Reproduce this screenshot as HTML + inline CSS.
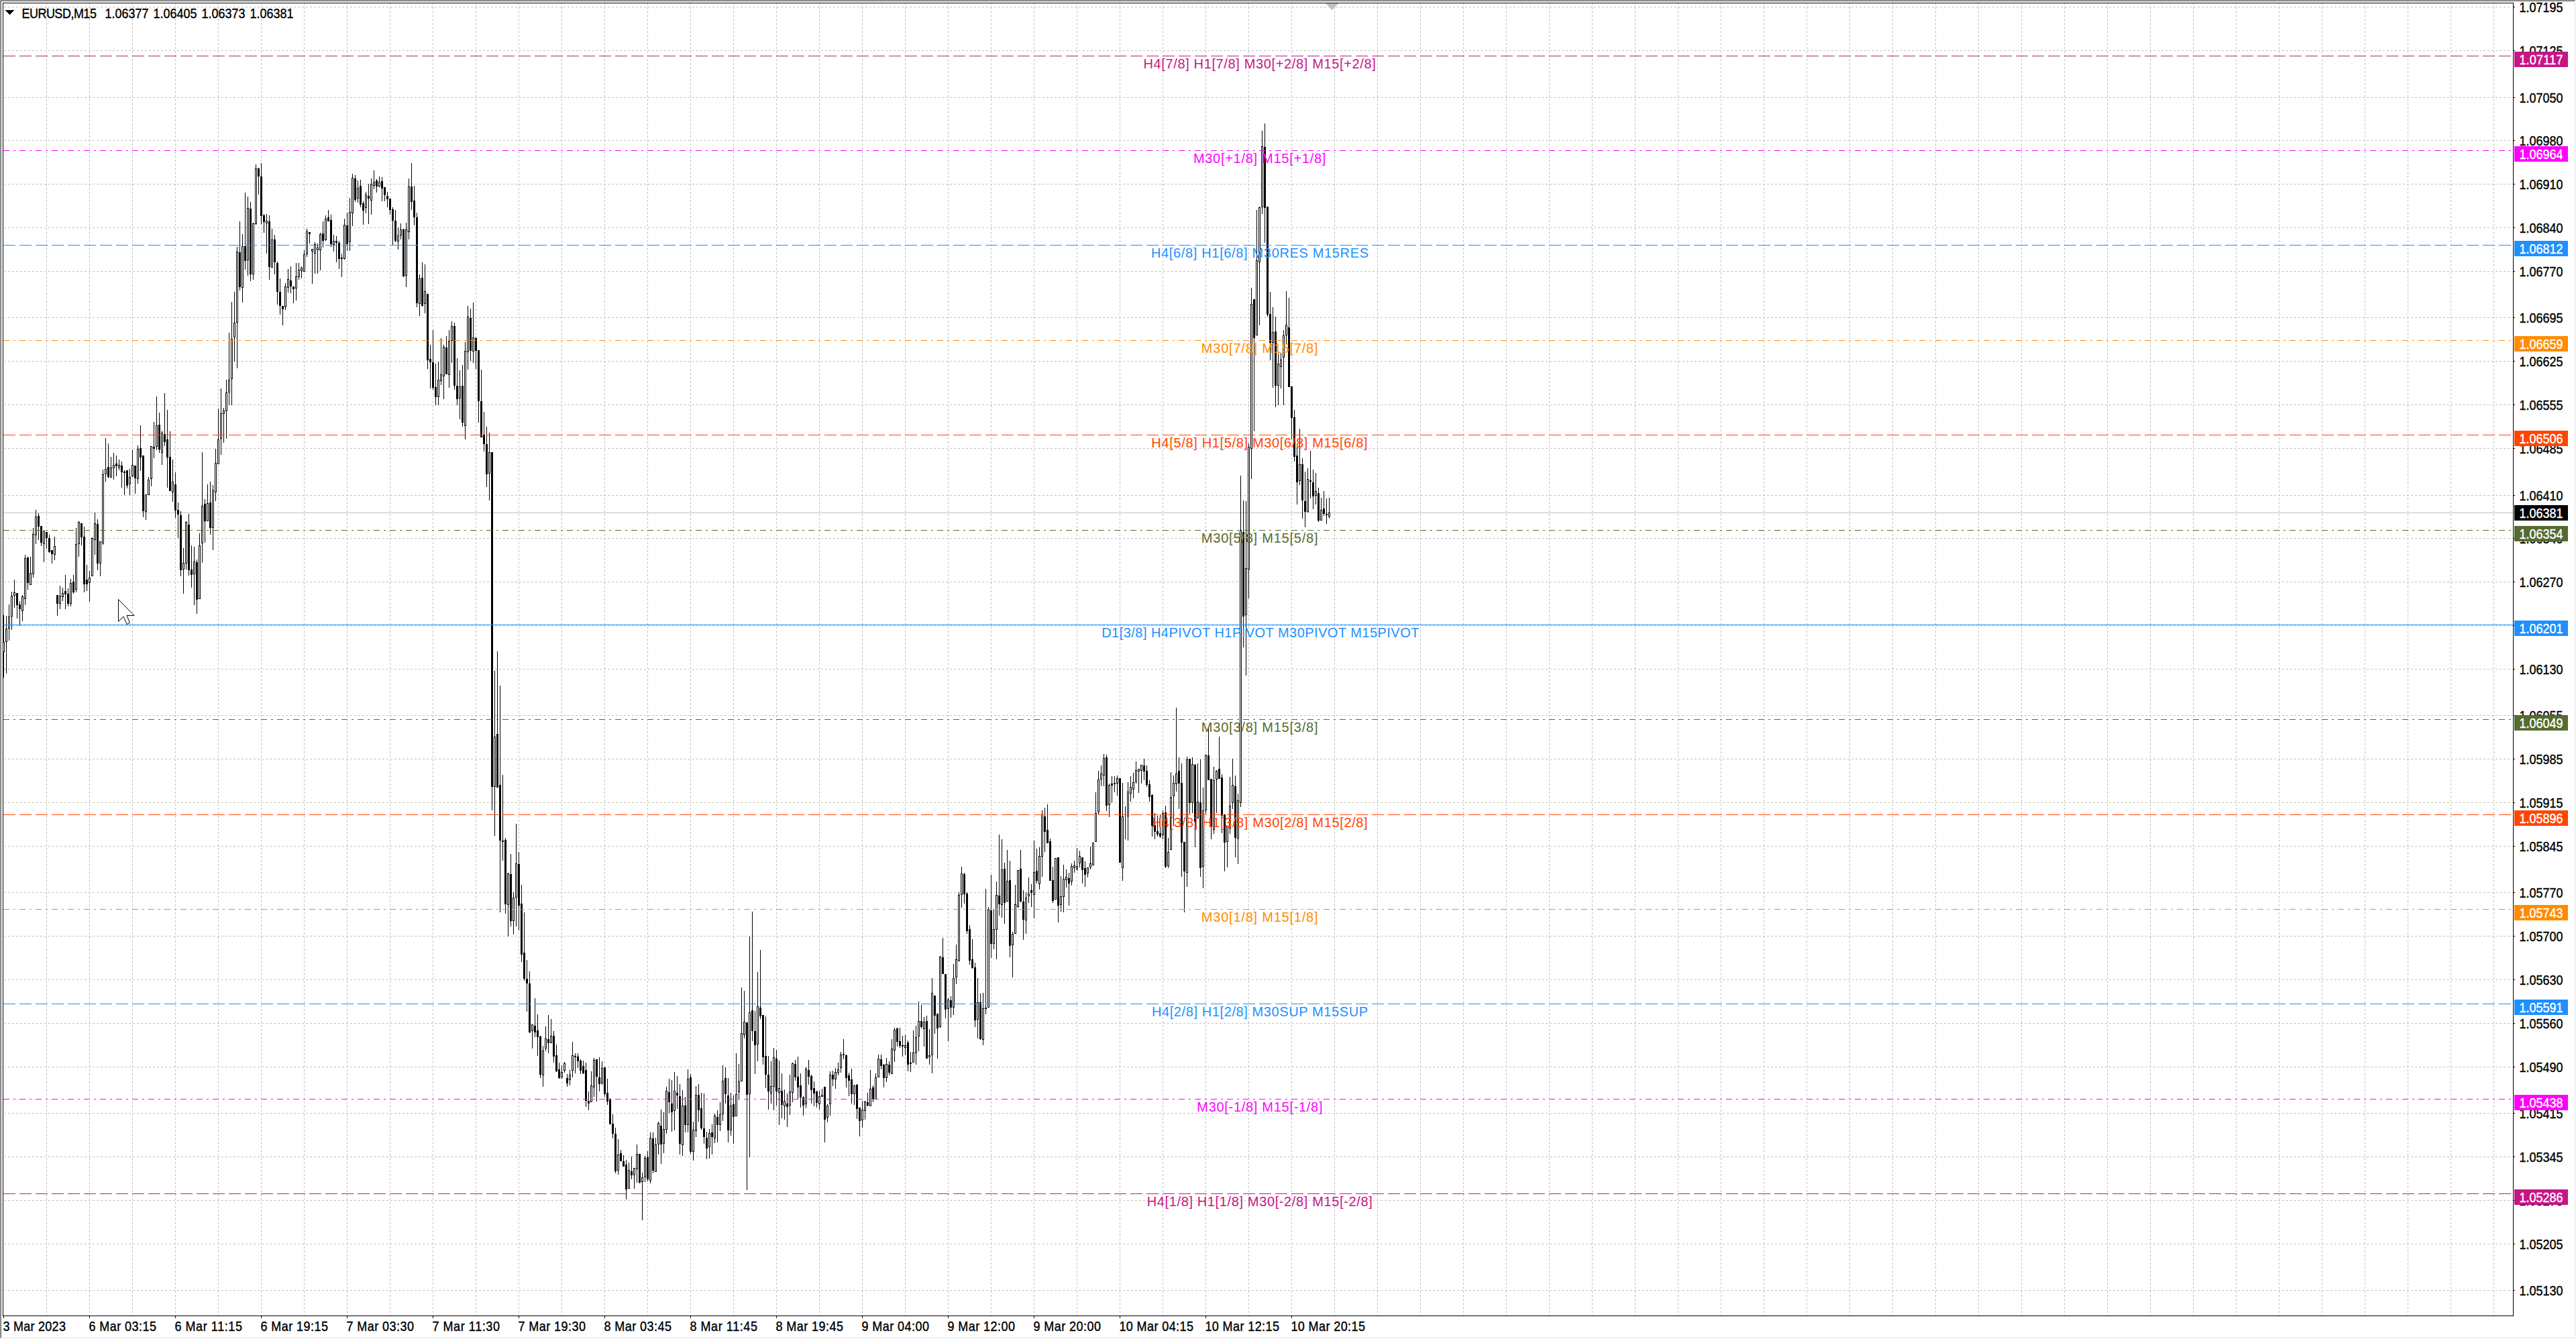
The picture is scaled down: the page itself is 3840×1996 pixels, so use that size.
<!DOCTYPE html>
<html><head><meta charset="utf-8"><title>EURUSD,M15</title>
<style>html,body{margin:0;padding:0;background:#fff;width:3840px;height:1996px;overflow:hidden}svg{display:block}text{font-family:'Liberation Sans', Arial, sans-serif;}</style></head><body>
<svg width="3840" height="1996" viewBox="0 0 3840 1996" shape-rendering="crispEdges">
<rect x="0" y="0" width="3840" height="1996" fill="#fff"/>
<rect x="0" y="0" width="3839" height="1" fill="#a0a0a0"/>
<rect x="0" y="0" width="1" height="1995" fill="#a0a0a0"/>
<rect x="1" y="1" width="3837" height="1" fill="#696969"/>
<rect x="1" y="1" width="1" height="1993" fill="#696969"/>
<rect x="3838" y="1" width="1" height="1994" fill="#e3e3e3"/>
<rect x="1" y="1994" width="3838" height="1" fill="#e3e3e3"/>
<path d="M69.5 4V1961M133.5 4V1961M197.5 4V1961M261.5 4V1961M325.5 4V1961M389.5 4V1961M453.5 4V1961M517.5 4V1961M581.5 4V1961M645.5 4V1961M709.5 4V1961M773.5 4V1961M837.5 4V1961M901.5 4V1961M965.5 4V1961M1029.5 4V1961M1093.5 4V1961M1157.5 4V1961M1221.5 4V1961M1285.5 4V1961M1349.5 4V1961M1413.5 4V1961M1477.5 4V1961M1541.5 4V1961M1605.5 4V1961M1669.5 4V1961M1733.5 4V1961M1797.5 4V1961M1861.5 4V1961M1925.5 4V1961M1989.5 4V1961M2053.5 4V1961M2117.5 4V1961M2181.5 4V1961M2245.5 4V1961M2309.5 4V1961M2373.5 4V1961M2437.5 4V1961M2501.5 4V1961M2565.5 4V1961M2629.5 4V1961M2693.5 4V1961M2757.5 4V1961M2821.5 4V1961M2885.5 4V1961M2949.5 4V1961M3013.5 4V1961M3077.5 4V1961M3141.5 4V1961M3205.5 4V1961M3269.5 4V1961M3333.5 4V1961M3397.5 4V1961M3461.5 4V1961M3525.5 4V1961M3589.5 4V1961M3653.5 4V1961M3717.5 4V1961" stroke="#c0c0c0" stroke-width="1" stroke-dasharray="3 3" fill="none"/>
<path d="M6 10.5H3745M6 75.5H3745M6 145.5H3745M6 209.5H3745M6 274.5H3745M6 339.5H3745M6 404.5H3745M6 473.5H3745M6 538.5H3745M6 603.5H3745M6 668.5H3745M6 738.5H3745M6 802.5H3745M6 867.5H3745M6 932.5H3745M6 997.5H3745M6 1066.5H3745M6 1131.5H3745M6 1196.5H3745M6 1261.5H3745M6 1330.5H3745M6 1395.5H3745M6 1460.5H3745M6 1525.5H3745M6 1590.5H3745M6 1659.5H3745M6 1724.5H3745M6 1789.5H3745M6 1854.5H3745M6 1923.5H3745" stroke="#c0c0c0" stroke-width="1" stroke-dasharray="3 3" fill="none"/>
<path d="M5 764.5H3746" stroke="#c0c0c0" stroke-width="1" fill="none"/>
<path d="M5 917h1v40h-1zM5 972h1v38h-1zM4 957h3v1h-3zM4 971h3v1h-3zM4 958h1v13h-1zM6 958h1v13h-1zM9 918h1v19h-1zM9 957h1v47h-1zM8 937h3v1h-3zM8 956h3v1h-3zM8 938h1v18h-1zM10 938h1v18h-1zM13 901h1v18h-1zM13 937h1v18h-1zM12 919h3v1h-3zM12 936h3v1h-3zM12 920h1v16h-1zM14 920h1v16h-1zM17 882h1v6h-1zM17 919h1v20h-1zM16 888h3v1h-3zM16 918h3v1h-3zM16 889h1v29h-1zM18 889h1v29h-1zM21 864h1v19h-1zM21 888h1v18h-1zM20 883h3v1h-3zM20 887h3v1h-3zM20 884h1v3h-1zM22 884h1v3h-1zM25 902h1v20h-1zM24 884h3v18h-3zM29 896h1v5h-1zM29 908h1v25h-1zM28 901h3v7h-3zM33 887h1v2h-1zM33 911h1v15h-1zM32 889h3v1h-3zM32 910h3v1h-3zM32 890h1v20h-1zM34 890h1v20h-1zM37 827h1v5h-1zM37 893h1v9h-1zM36 832h3v1h-3zM36 892h3v1h-3zM36 833h1v59h-1zM38 833h1v59h-1zM41 830h1v1h-1zM41 869h1v10h-1zM40 831h3v38h-3zM45 830h1v24h-1zM44 854h3v1h-3zM44 871h3v1h-3zM44 855h1v16h-1zM46 855h1v16h-1zM49 787h1v9h-1zM49 856h1v5h-1zM48 796h3v1h-3zM48 855h3v1h-3zM48 797h1v58h-1zM50 797h1v58h-1zM53 760h1v10h-1zM53 798h1v13h-1zM52 770h3v1h-3zM52 797h3v1h-3zM52 771h1v26h-1zM54 771h1v26h-1zM57 765h1v4h-1zM57 785h1v20h-1zM56 769h3v16h-3zM61 809h1v5h-1zM60 784h3v25h-3zM65 811h1v27h-1zM64 791h3v1h-3zM64 810h3v1h-3zM64 792h1v18h-1zM66 792h1v18h-1zM69 802h1v16h-1zM68 793h3v9h-3zM73 797h1v5h-1zM73 823h1v1h-1zM72 802h3v21h-3zM77 826h1v14h-1zM76 820h3v6h-3zM81 800h1v14h-1zM81 827h1v8h-1zM80 814h3v1h-3zM80 826h3v1h-3zM80 815h1v11h-1zM82 815h1v11h-1zM85 900h1v18h-1zM84 887h3v13h-3zM89 873h1v15h-1zM89 900h1v8h-1zM88 888h3v1h-3zM88 899h3v1h-3zM88 889h1v10h-1zM90 889h1v10h-1zM93 876h1v8h-1zM93 890h1v6h-1zM92 884h3v1h-3zM92 889h3v1h-3zM92 885h1v4h-1zM94 885h1v4h-1zM97 857h1v24h-1zM97 886h1v22h-1zM96 881h3v5h-3zM101 877h1v8h-1zM101 900h1v4h-1zM100 885h3v15h-3zM105 863h1v6h-1zM105 900h1v4h-1zM104 869h3v1h-3zM104 899h3v1h-3zM104 870h1v29h-1zM106 870h1v29h-1zM109 857h1v10h-1zM109 883h1v2h-1zM108 867h3v16h-3zM113 787h1v24h-1zM113 879h1v4h-1zM112 811h3v1h-3zM112 878h3v1h-3zM112 812h1v66h-1zM114 812h1v66h-1zM117 777h1v1h-1zM117 811h1v19h-1zM116 778h3v1h-3zM116 810h3v1h-3zM116 779h1v31h-1zM118 779h1v31h-1zM121 801h1v12h-1zM120 780h3v21h-3zM125 785h1v15h-1zM125 871h1v12h-1zM124 800h3v71h-3zM129 842h1v22h-1zM129 871h1v10h-1zM128 864h3v7h-3zM133 851h1v10h-1zM133 869h1v28h-1zM132 861h3v1h-3zM132 868h3v1h-3zM132 862h1v6h-1zM134 862h1v6h-1zM137 801h1v1h-1zM136 802h3v1h-3zM136 858h3v1h-3zM136 803h1v55h-1zM138 803h1v55h-1zM141 764h1v16h-1zM141 805h1v22h-1zM140 780h3v1h-3zM140 804h3v1h-3zM140 781h1v23h-1zM142 781h1v23h-1zM145 774h1v7h-1zM145 840h1v10h-1zM144 781h3v59h-3zM149 840h1v19h-1zM148 807h3v1h-3zM148 839h3v1h-3zM148 808h1v31h-1zM150 808h1v31h-1zM153 700h1v7h-1zM153 810h1v2h-1zM152 707h3v1h-3zM152 809h3v1h-3zM152 708h1v101h-1zM154 708h1v101h-1zM157 653h1v46h-1zM157 707h1v11h-1zM156 699h3v1h-3zM156 706h3v1h-3zM156 700h1v6h-1zM158 700h1v6h-1zM161 661h1v35h-1zM161 711h1v2h-1zM160 696h3v15h-3zM165 681h1v16h-1zM164 697h3v1h-3zM164 711h3v1h-3zM164 698h1v13h-1zM166 698h1v13h-1zM169 675h1v18h-1zM169 698h1v17h-1zM168 693h3v1h-3zM168 697h3v1h-3zM168 694h1v3h-1zM170 694h1v3h-1zM173 679h1v12h-1zM173 695h1v15h-1zM172 691h3v4h-3zM177 685h1v8h-1zM177 697h1v4h-1zM176 693h3v1h-3zM176 696h3v1h-3zM176 694h1v2h-1zM178 694h1v2h-1zM181 688h1v6h-1zM181 704h1v23h-1zM180 694h3v10h-3zM185 701h1v2h-1zM185 705h1v33h-1zM184 703h3v2h-3zM189 724h1v4h-1zM188 701h3v23h-3zM193 699h1v12h-1zM193 722h1v16h-1zM192 711h3v1h-3zM192 721h3v1h-3zM192 712h1v9h-1zM194 712h1v9h-1zM197 670h1v23h-1zM197 710h1v1h-1zM196 693h3v1h-3zM196 709h3v1h-3zM196 694h1v15h-1zM198 694h1v15h-1zM201 713h1v23h-1zM200 694h3v19h-3zM205 664h1v5h-1zM205 714h1v7h-1zM204 669h3v1h-3zM204 713h3v1h-3zM204 670h1v43h-1zM206 670h1v43h-1zM209 634h1v34h-1zM209 682h1v20h-1zM208 668h3v14h-3zM213 762h1v9h-1zM212 679h3v83h-3zM217 763h1v12h-1zM216 737h3v1h-3zM216 762h3v1h-3zM216 738h1v24h-1zM218 738h1v24h-1zM221 711h1v4h-1zM220 715h3v1h-3zM220 737h3v1h-3zM220 716h1v21h-1zM222 716h1v21h-1zM225 714h1v11h-1zM224 665h3v1h-3zM224 713h3v1h-3zM224 666h1v47h-1zM226 666h1v47h-1zM229 629h1v37h-1zM229 669h1v14h-1zM228 666h3v3h-3zM233 591h1v43h-1zM233 666h1v5h-1zM232 634h3v1h-3zM232 665h3v1h-3zM232 635h1v30h-1zM234 635h1v30h-1zM237 615h1v18h-1zM237 670h1v5h-1zM236 633h3v37h-3zM241 642h1v3h-1zM241 675h1v18h-1zM240 645h3v1h-3zM240 674h3v1h-3zM240 646h1v28h-1zM242 646h1v28h-1zM245 586h1v61h-1zM245 659h1v6h-1zM244 647h3v12h-3zM249 611h1v44h-1zM249 682h1v45h-1zM248 655h3v27h-3zM253 643h1v38h-1zM252 681h3v51h-3zM257 685h1v33h-1zM257 734h1v14h-1zM256 718h3v1h-3zM256 733h3v1h-3zM256 719h1v14h-1zM258 719h1v14h-1zM261 704h1v18h-1zM261 761h1v11h-1zM260 722h3v39h-3zM265 749h1v11h-1zM265 767h1v35h-1zM264 760h3v7h-3zM269 762h1v6h-1zM269 850h1v9h-1zM268 768h3v82h-3zM273 817h1v22h-1zM273 849h1v36h-1zM272 839h3v1h-3zM272 848h3v1h-3zM272 840h1v8h-1zM274 840h1v8h-1zM277 777h1v1h-1zM277 840h1v9h-1zM276 778h3v1h-3zM276 839h3v1h-3zM276 779h1v60h-1zM278 779h1v60h-1zM281 766h1v16h-1zM281 850h1v8h-1zM280 782h3v68h-3zM285 813h1v36h-1zM285 857h1v19h-1zM284 849h3v8h-3zM289 815h1v22h-1zM289 856h1v46h-1zM288 837h3v1h-3zM288 855h3v1h-3zM288 838h1v17h-1zM290 838h1v17h-1zM293 834h1v4h-1zM293 894h1v21h-1zM292 838h3v56h-3zM297 795h1v18h-1zM296 813h3v1h-3zM296 892h3v1h-3zM296 814h1v78h-1zM298 814h1v78h-1zM301 674h1v80h-1zM301 810h1v29h-1zM300 754h3v1h-3zM300 809h3v1h-3zM300 755h1v54h-1zM302 755h1v54h-1zM305 744h1v7h-1zM305 777h1v32h-1zM304 751h3v26h-3zM309 722h1v28h-1zM308 750h3v1h-3zM308 776h3v1h-3zM308 751h1v25h-1zM310 751h1v25h-1zM313 718h1v31h-1zM313 787h1v10h-1zM312 749h3v38h-3zM317 723h1v8h-1zM317 787h1v33h-1zM316 731h3v1h-3zM316 786h3v1h-3zM316 732h1v54h-1zM318 732h1v54h-1zM321 669h1v21h-1zM321 734h1v13h-1zM320 690h3v1h-3zM320 733h3v1h-3zM320 691h1v42h-1zM322 691h1v42h-1zM325 609h1v46h-1zM324 655h3v1h-3zM324 691h3v1h-3zM324 656h1v35h-1zM326 656h1v35h-1zM329 579h1v37h-1zM329 654h1v24h-1zM328 616h3v1h-3zM328 653h3v1h-3zM328 617h1v36h-1zM330 617h1v36h-1zM333 608h1v4h-1zM333 617h1v43h-1zM332 612h3v1h-3zM332 616h3v1h-3zM332 613h1v3h-1zM334 613h1v3h-1zM337 566h1v19h-1zM337 613h1v41h-1zM336 585h3v1h-3zM336 612h3v1h-3zM336 586h1v26h-1zM338 586h1v26h-1zM341 496h1v70h-1zM341 585h1v19h-1zM340 566h3v1h-3zM340 584h3v1h-3zM340 567h1v17h-1zM342 567h1v17h-1zM345 450h1v55h-1zM345 565h1v39h-1zM344 505h3v1h-3zM344 564h3v1h-3zM344 506h1v58h-1zM346 506h1v58h-1zM349 435h1v46h-1zM349 503h1v36h-1zM348 481h3v1h-3zM348 502h3v1h-3zM348 482h1v20h-1zM350 482h1v20h-1zM353 368h1v7h-1zM353 481h1v68h-1zM352 375h3v1h-3zM352 480h3v1h-3zM352 376h1v104h-1zM354 376h1v104h-1zM357 330h1v46h-1zM357 428h1v5h-1zM356 376h3v52h-3zM361 349h1v18h-1zM361 429h1v22h-1zM360 367h3v1h-3zM360 428h3v1h-3zM360 368h1v60h-1zM362 368h1v60h-1zM365 287h1v80h-1zM365 389h1v13h-1zM364 367h3v22h-3zM369 293h1v17h-1zM369 388h1v23h-1zM368 310h3v1h-3zM368 387h3v1h-3zM368 311h1v76h-1zM370 311h1v76h-1zM373 301h1v10h-1zM373 409h1v10h-1zM372 311h3v98h-3zM377 332h1v1h-1zM377 409h1v8h-1zM376 333h3v1h-3zM376 408h3v1h-3zM376 334h1v74h-1zM378 334h1v74h-1zM381 245h1v6h-1zM381 334h1v1h-1zM380 251h3v1h-3zM380 333h3v1h-3zM380 252h1v81h-1zM382 252h1v81h-1zM385 250h1v1h-1zM385 263h1v27h-1zM384 251h3v12h-3zM389 243h1v20h-1zM389 322h1v12h-1zM388 263h3v59h-3zM393 319h1v2h-1zM393 331h1v16h-1zM392 321h3v10h-3zM397 319h1v10h-1zM397 333h1v45h-1zM396 329h3v1h-3zM396 332h3v1h-3zM396 330h1v2h-1zM398 330h1v2h-1zM401 321h1v9h-1zM401 398h1v19h-1zM400 330h3v68h-3zM405 341h1v16h-1zM404 357h3v1h-3zM404 398h3v1h-3zM404 358h1v40h-1zM406 358h1v40h-1zM409 350h1v7h-1zM409 391h1v18h-1zM408 357h3v34h-3zM413 390h1v2h-1zM413 435h1v19h-1zM412 392h3v43h-3zM417 415h1v20h-1zM417 456h1v13h-1zM416 435h3v21h-3zM421 461h1v24h-1zM420 456h3v5h-3zM425 422h1v5h-1zM425 458h1v4h-1zM424 427h3v1h-3zM424 457h3v1h-3zM424 428h1v29h-1zM426 428h1v29h-1zM429 401h1v15h-1zM429 429h1v7h-1zM428 416h3v1h-3zM428 428h3v1h-3zM428 417h1v11h-1zM430 417h1v11h-1zM433 397h1v21h-1zM433 427h1v10h-1zM432 418h3v9h-3zM437 431h1v21h-1zM436 427h3v4h-3zM441 392h1v20h-1zM441 430h1v18h-1zM440 412h3v1h-3zM440 429h3v1h-3zM440 413h1v16h-1zM442 413h1v16h-1zM445 392h1v10h-1zM445 413h1v4h-1zM444 402h3v1h-3zM444 412h3v1h-3zM444 403h1v9h-1zM446 403h1v9h-1zM449 397h1v2h-1zM449 404h1v11h-1zM448 399h3v1h-3zM448 403h3v1h-3zM448 400h1v3h-1zM450 400h1v3h-1zM453 373h1v6h-1zM452 379h3v1h-3zM452 404h3v1h-3zM452 380h1v24h-1zM454 380h1v24h-1zM457 341h1v4h-1zM457 379h1v4h-1zM456 345h3v1h-3zM456 378h3v1h-3zM456 346h1v32h-1zM458 346h1v32h-1zM461 349h1v14h-1zM460 346h3v3h-3zM465 375h1v48h-1zM464 371h3v1h-3zM464 374h3v1h-3zM464 372h1v2h-1zM466 372h1v2h-1zM469 361h1v3h-1zM469 378h1v30h-1zM468 364h3v1h-3zM468 377h3v1h-3zM468 365h1v12h-1zM470 365h1v12h-1zM473 363h1v6h-1zM473 373h1v35h-1zM472 369h3v1h-3zM472 372h3v1h-3zM472 370h1v2h-1zM474 370h1v2h-1zM477 347h1v2h-1zM477 373h1v30h-1zM476 349h3v1h-3zM476 372h3v1h-3zM476 350h1v22h-1zM478 350h1v22h-1zM481 330h1v18h-1zM481 359h1v10h-1zM480 348h3v11h-3zM485 321h1v5h-1zM485 358h1v1h-1zM484 326h3v1h-3zM484 357h3v1h-3zM484 327h1v30h-1zM486 327h1v30h-1zM489 313h1v11h-1zM488 324h3v6h-3zM493 320h1v8h-1zM493 364h1v4h-1zM492 328h3v36h-3zM497 350h1v9h-1zM497 365h1v10h-1zM496 359h3v1h-3zM496 364h3v1h-3zM496 360h1v4h-1zM498 360h1v4h-1zM501 352h1v7h-1zM501 362h1v29h-1zM500 359h3v3h-3zM505 359h1v3h-1zM505 386h1v15h-1zM504 362h3v24h-3zM509 378h1v6h-1zM509 386h1v27h-1zM508 384h3v2h-3zM513 326h1v9h-1zM513 386h1v1h-1zM512 335h3v1h-3zM512 385h3v1h-3zM512 336h1v49h-1zM514 336h1v49h-1zM517 317h1v19h-1zM517 364h1v10h-1zM516 336h3v28h-3zM521 295h1v21h-1zM521 361h1v13h-1zM520 316h3v1h-3zM520 360h3v1h-3zM520 317h1v43h-1zM522 317h1v43h-1zM525 259h1v6h-1zM525 318h1v19h-1zM524 265h3v1h-3zM524 317h3v1h-3zM524 266h1v51h-1zM526 266h1v51h-1zM529 261h1v5h-1zM529 298h1v3h-1zM528 266h3v32h-3zM533 269h1v11h-1zM533 296h1v6h-1zM532 280h3v1h-3zM532 295h3v1h-3zM532 281h1v14h-1zM534 281h1v14h-1zM537 268h1v9h-1zM537 305h1v4h-1zM536 277h3v28h-3zM541 300h1v3h-1zM541 314h1v21h-1zM540 303h3v11h-3zM545 286h1v4h-1zM545 310h1v8h-1zM544 290h3v1h-3zM544 309h3v1h-3zM544 291h1v18h-1zM546 291h1v18h-1zM549 274h1v18h-1zM549 296h1v38h-1zM548 292h3v4h-3zM553 266h1v8h-1zM553 299h1v21h-1zM552 274h3v1h-3zM552 298h3v1h-3zM552 275h1v23h-1zM554 275h1v23h-1zM557 254h1v17h-1zM557 277h1v5h-1zM556 271h3v1h-3zM556 276h3v1h-3zM556 272h1v4h-1zM558 272h1v4h-1zM561 267h1v2h-1zM561 278h1v9h-1zM560 269h3v9h-3zM565 263h1v8h-1zM565 278h1v1h-1zM564 271h3v1h-3zM564 277h3v1h-3zM564 272h1v5h-1zM566 272h1v5h-1zM569 264h1v6h-1zM569 281h1v19h-1zM568 270h3v11h-3zM573 291h1v9h-1zM572 279h3v12h-3zM577 286h1v6h-1zM577 297h1v12h-1zM576 292h3v5h-3zM581 313h1v7h-1zM580 296h3v17h-3zM585 309h1v3h-1zM585 329h1v36h-1zM584 312h3v17h-3zM589 313h1v16h-1zM589 359h1v2h-1zM588 329h3v30h-3zM593 339h1v12h-1zM593 360h1v12h-1zM592 351h3v1h-3zM592 359h3v1h-3zM592 352h1v7h-1zM594 352h1v7h-1zM597 333h1v9h-1zM597 351h1v6h-1zM596 342h3v1h-3zM596 350h3v1h-3zM596 343h1v7h-1zM598 343h1v7h-1zM601 341h1v1h-1zM601 412h1v1h-1zM600 342h3v70h-3zM605 332h1v10h-1zM605 411h1v17h-1zM604 342h3v1h-3zM604 410h3v1h-3zM604 343h1v67h-1zM606 343h1v67h-1zM609 266h1v12h-1zM609 346h1v11h-1zM608 278h3v1h-3zM608 345h3v1h-3zM608 279h1v66h-1zM610 279h1v66h-1zM613 243h1v35h-1zM613 301h1v12h-1zM612 278h3v23h-3zM617 277h1v22h-1zM617 324h1v12h-1zM616 299h3v25h-3zM621 317h1v7h-1zM621 452h1v6h-1zM620 324h3v128h-3zM625 409h1v6h-1zM625 453h1v18h-1zM624 415h3v1h-3zM624 452h3v1h-3zM624 416h1v36h-1zM626 416h1v36h-1zM629 391h1v23h-1zM629 456h1v1h-1zM628 414h3v42h-3zM633 394h1v40h-1zM633 453h1v14h-1zM632 434h3v1h-3zM632 452h3v1h-3zM632 435h1v17h-1zM634 435h1v17h-1zM637 537h1v13h-1zM636 438h3v99h-3zM641 514h1v21h-1zM641 540h1v39h-1zM640 535h3v5h-3zM645 492h1v48h-1zM645 578h1v3h-1zM644 540h3v38h-3zM649 542h1v35h-1zM649 592h1v12h-1zM648 577h3v15h-3zM653 539h1v27h-1zM653 592h1v12h-1zM652 566h3v1h-3zM652 591h3v1h-3zM652 567h1v24h-1zM654 567h1v24h-1zM657 504h1v54h-1zM657 568h1v6h-1zM656 558h3v1h-3zM656 567h3v1h-3zM656 559h1v8h-1zM658 559h1v8h-1zM661 514h1v3h-1zM661 561h1v34h-1zM660 517h3v1h-3zM660 560h3v1h-3zM660 518h1v42h-1zM662 518h1v42h-1zM665 501h1v17h-1zM664 518h3v40h-3zM669 492h1v16h-1zM669 559h1v19h-1zM668 508h3v1h-3zM668 558h3v1h-3zM668 509h1v49h-1zM670 509h1v49h-1zM673 479h1v7h-1zM673 508h1v33h-1zM672 486h3v1h-3zM672 507h3v1h-3zM672 487h1v20h-1zM674 487h1v20h-1zM677 481h1v5h-1zM677 575h1v6h-1zM676 486h3v89h-3zM681 534h1v41h-1zM681 595h1v9h-1zM680 575h3v20h-3zM685 552h1v24h-1zM685 594h1v31h-1zM684 576h3v1h-3zM684 593h3v1h-3zM684 577h1v16h-1zM686 577h1v16h-1zM689 544h1v31h-1zM689 630h1v6h-1zM688 575h3v55h-3zM693 510h1v13h-1zM693 635h1v20h-1zM692 523h3v1h-3zM692 634h3v1h-3zM692 524h1v110h-1zM694 524h1v110h-1zM697 456h1v16h-1zM697 525h1v26h-1zM696 472h3v1h-3zM696 524h3v1h-3zM696 473h1v51h-1zM698 473h1v51h-1zM701 460h1v14h-1zM701 523h1v15h-1zM700 474h3v49h-3zM705 451h1v52h-1zM705 524h1v17h-1zM704 503h3v1h-3zM704 523h3v1h-3zM704 504h1v19h-1zM706 504h1v19h-1zM709 502h1v2h-1zM709 523h1v27h-1zM708 504h3v19h-3zM713 598h1v32h-1zM712 522h3v76h-3zM717 551h1v47h-1zM716 598h3v54h-3zM721 614h1v34h-1zM721 662h1v11h-1zM720 648h3v14h-3zM725 636h1v26h-1zM725 707h1v19h-1zM724 662h3v45h-3zM729 645h1v29h-1zM729 706h1v40h-1zM728 674h3v1h-3zM728 705h3v1h-3zM728 675h1v30h-1zM730 675h1v30h-1zM733 1173h1v35h-1zM732 674h3v499h-3zM737 1000h1v98h-1zM737 1173h1v73h-1zM736 1098h3v1h-3zM736 1172h3v1h-3zM736 1099h1v73h-1zM738 1099h1v73h-1zM741 971h1v123h-1zM740 1094h3v80h-3zM745 1022h1v148h-1zM745 1253h1v107h-1zM744 1170h3v83h-3zM749 1155h1v98h-1zM749 1255h1v28h-1zM748 1253h3v2h-3zM753 1249h1v3h-1zM753 1348h1v14h-1zM752 1252h3v96h-3zM757 1301h1v1h-1zM757 1349h1v47h-1zM756 1302h3v1h-3zM756 1348h3v1h-3zM756 1303h1v45h-1zM758 1303h1v45h-1zM761 1273h1v30h-1zM761 1373h1v8h-1zM760 1303h3v70h-3zM765 1330h1v8h-1zM765 1373h1v20h-1zM764 1338h3v1h-3zM764 1372h3v1h-3zM764 1339h1v33h-1zM766 1339h1v33h-1zM769 1228h1v59h-1zM769 1338h1v43h-1zM768 1287h3v1h-3zM768 1337h3v1h-3zM768 1288h1v49h-1zM770 1288h1v49h-1zM773 1270h1v18h-1zM773 1350h1v37h-1zM772 1288h3v62h-3zM777 1319h1v28h-1zM777 1423h1v11h-1zM776 1347h3v76h-3zM781 1360h1v60h-1zM781 1459h1v3h-1zM780 1420h3v39h-3zM785 1431h1v28h-1zM785 1466h1v42h-1zM784 1459h3v7h-3zM789 1448h1v18h-1zM789 1539h1v1h-1zM788 1466h3v73h-3zM793 1537h1v26h-1zM792 1527h3v1h-3zM792 1536h3v1h-3zM792 1528h1v8h-1zM794 1528h1v8h-1zM797 1488h1v41h-1zM797 1539h1v7h-1zM796 1529h3v10h-3zM801 1512h1v24h-1zM801 1546h1v28h-1zM800 1536h3v10h-3zM805 1544h1v1h-1zM805 1602h1v5h-1zM804 1545h3v57h-3zM809 1559h1v7h-1zM809 1603h1v17h-1zM808 1566h3v1h-3zM808 1602h3v1h-3zM808 1567h1v35h-1zM810 1567h1v35h-1zM813 1530h1v18h-1zM813 1563h1v4h-1zM812 1548h3v1h-3zM812 1562h3v1h-3zM812 1549h1v13h-1zM814 1549h1v13h-1zM817 1513h1v36h-1zM817 1555h1v15h-1zM816 1549h3v6h-3zM821 1519h1v25h-1zM820 1544h3v1h-3zM820 1554h3v1h-3zM820 1545h1v9h-1zM822 1545h1v9h-1zM825 1537h1v7h-1zM825 1575h1v9h-1zM824 1544h3v31h-3zM829 1557h1v16h-1zM829 1597h1v1h-1zM828 1573h3v24h-3zM833 1584h1v10h-1zM833 1607h1v1h-1zM832 1594h3v13h-3zM837 1588h1v10h-1zM837 1606h1v2h-1zM836 1598h3v1h-3zM836 1605h3v1h-3zM836 1599h1v6h-1zM838 1599h1v6h-1zM841 1583h1v2h-1zM841 1596h1v3h-1zM840 1585h3v1h-3zM840 1595h3v1h-3zM840 1586h1v9h-1zM842 1586h1v9h-1zM845 1601h1v6h-1zM845 1615h1v5h-1zM844 1607h3v8h-3zM849 1595h1v7h-1zM849 1610h1v8h-1zM848 1602h3v1h-3zM848 1609h3v1h-3zM848 1603h1v6h-1zM850 1603h1v6h-1zM853 1553h1v20h-1zM853 1596h1v10h-1zM852 1573h3v1h-3zM852 1595h3v1h-3zM852 1574h1v21h-1zM854 1574h1v21h-1zM857 1570h1v4h-1zM857 1576h1v24h-1zM856 1574h3v2h-3zM861 1570h1v5h-1zM861 1582h1v10h-1zM860 1575h3v7h-3zM865 1579h1v2h-1zM865 1596h1v5h-1zM864 1581h3v15h-3zM869 1581h1v8h-1zM869 1600h1v1h-1zM868 1589h3v11h-3zM873 1584h1v11h-1zM873 1641h1v9h-1zM872 1595h3v46h-3zM877 1627h1v14h-1zM877 1645h1v10h-1zM876 1641h3v4h-3zM881 1597h1v21h-1zM880 1618h3v1h-3zM880 1642h3v1h-3zM880 1619h1v23h-1zM882 1619h1v23h-1zM885 1577h1v3h-1zM885 1621h1v14h-1zM884 1580h3v1h-3zM884 1620h3v1h-3zM884 1581h1v39h-1zM886 1581h1v39h-1zM889 1605h1v37h-1zM888 1579h3v26h-3zM893 1576h1v30h-1zM893 1616h1v11h-1zM892 1606h3v10h-3zM897 1582h1v10h-1zM897 1615h1v2h-1zM896 1592h3v1h-3zM896 1614h3v1h-3zM896 1593h1v21h-1zM898 1593h1v21h-1zM901 1631h1v4h-1zM900 1591h3v40h-3zM905 1608h1v21h-1zM905 1642h1v5h-1zM904 1629h3v13h-3zM909 1637h1v1h-1zM908 1638h3v38h-3zM913 1661h1v14h-1zM913 1690h1v7h-1zM912 1675h3v15h-3zM917 1681h1v9h-1zM917 1746h1v3h-1zM916 1690h3v56h-3zM921 1698h1v23h-1zM921 1745h1v6h-1zM920 1721h3v1h-3zM920 1744h3v1h-3zM920 1722h1v22h-1zM922 1722h1v22h-1zM925 1714h1v5h-1zM924 1719h3v12h-3zM929 1722h1v9h-1zM928 1731h3v8h-3zM933 1729h1v7h-1zM933 1773h1v15h-1zM932 1736h3v37h-3zM937 1733h1v11h-1zM936 1744h3v1h-3zM936 1771h3v1h-3zM936 1745h1v26h-1zM938 1745h1v26h-1zM941 1724h1v22h-1zM941 1752h1v6h-1zM940 1746h3v6h-3zM945 1752h1v20h-1zM944 1741h3v1h-3zM944 1751h3v1h-3zM944 1742h1v9h-1zM946 1742h1v9h-1zM949 1706h1v14h-1zM949 1743h1v20h-1zM948 1720h3v1h-3zM948 1742h3v1h-3zM948 1721h1v21h-1zM950 1721h1v21h-1zM953 1763h1v1h-1zM952 1720h3v43h-3zM957 1748h1v7h-1zM957 1762h1v57h-1zM956 1755h3v1h-3zM956 1761h3v1h-3zM956 1756h1v5h-1zM958 1756h1v5h-1zM961 1723h1v3h-1zM961 1755h1v7h-1zM960 1726h3v1h-3zM960 1754h3v1h-3zM960 1727h1v27h-1zM962 1727h1v27h-1zM965 1716h1v9h-1zM965 1758h1v3h-1zM964 1725h3v33h-3zM969 1688h1v8h-1zM969 1760h1v4h-1zM968 1696h3v1h-3zM968 1759h3v1h-3zM968 1697h1v62h-1zM970 1697h1v62h-1zM973 1688h1v9h-1zM973 1745h1v4h-1zM972 1697h3v48h-3zM977 1696h1v10h-1zM976 1706h3v1h-3zM976 1746h3v1h-3zM976 1707h1v39h-1zM978 1707h1v39h-1zM981 1672h1v2h-1zM981 1706h1v15h-1zM980 1674h3v1h-3zM980 1705h3v1h-3zM980 1675h1v30h-1zM982 1675h1v30h-1zM985 1654h1v24h-1zM985 1706h1v29h-1zM984 1678h3v28h-3zM989 1658h1v25h-1zM989 1705h1v14h-1zM988 1683h3v1h-3zM988 1704h3v1h-3zM988 1684h1v20h-1zM990 1684h1v20h-1zM993 1620h1v6h-1zM993 1684h1v6h-1zM992 1626h3v1h-3zM992 1683h3v1h-3zM992 1627h1v56h-1zM994 1627h1v56h-1zM997 1608h1v20h-1zM997 1643h1v16h-1zM996 1628h3v15h-3zM1001 1610h1v35h-1zM1001 1658h1v29h-1zM1000 1645h3v13h-3zM1005 1598h1v28h-1zM1005 1656h1v29h-1zM1004 1626h3v1h-3zM1004 1655h3v1h-3zM1004 1627h1v28h-1zM1006 1627h1v28h-1zM1009 1604h1v25h-1zM1009 1633h1v20h-1zM1008 1629h3v4h-3zM1013 1616h1v18h-1zM1013 1705h1v16h-1zM1012 1634h3v71h-3zM1017 1625h1v23h-1zM1017 1707h1v16h-1zM1016 1648h3v1h-3zM1016 1706h3v1h-3zM1016 1649h1v57h-1zM1018 1649h1v57h-1zM1021 1635h1v13h-1zM1021 1677h1v11h-1zM1020 1648h3v29h-3zM1025 1594h1v14h-1zM1025 1677h1v11h-1zM1024 1608h3v1h-3zM1024 1676h3v1h-3zM1024 1609h1v67h-1zM1026 1609h1v67h-1zM1029 1601h1v5h-1zM1029 1717h1v3h-1zM1028 1606h3v111h-3zM1033 1672h1v12h-1zM1033 1717h1v13h-1zM1032 1684h3v1h-3zM1032 1716h3v1h-3zM1032 1685h1v31h-1zM1034 1685h1v31h-1zM1037 1619h1v13h-1zM1037 1686h1v9h-1zM1036 1632h3v1h-3zM1036 1685h3v1h-3zM1036 1633h1v52h-1zM1038 1633h1v52h-1zM1041 1616h1v16h-1zM1041 1655h1v17h-1zM1040 1632h3v23h-3zM1045 1629h1v23h-1zM1045 1682h1v2h-1zM1044 1652h3v30h-3zM1049 1630h1v52h-1zM1049 1695h1v10h-1zM1048 1682h3v13h-3zM1053 1687h1v9h-1zM1053 1712h1v16h-1zM1052 1696h3v16h-3zM1057 1683h1v6h-1zM1057 1710h1v17h-1zM1056 1689h3v1h-3zM1056 1709h3v1h-3zM1056 1690h1v19h-1zM1058 1690h1v19h-1zM1061 1676h1v12h-1zM1061 1695h1v26h-1zM1060 1688h3v7h-3zM1065 1660h1v3h-1zM1065 1697h1v7h-1zM1064 1663h3v1h-3zM1064 1696h3v1h-3zM1064 1664h1v32h-1zM1066 1664h1v32h-1zM1069 1655h1v10h-1zM1069 1677h1v26h-1zM1068 1665h3v12h-3zM1073 1643h1v18h-1zM1073 1677h1v9h-1zM1072 1661h3v1h-3zM1072 1676h3v1h-3zM1072 1662h1v14h-1zM1074 1662h1v14h-1zM1077 1588h1v23h-1zM1077 1661h1v10h-1zM1076 1611h3v1h-3zM1076 1660h3v1h-3zM1076 1612h1v48h-1zM1078 1612h1v48h-1zM1081 1591h1v16h-1zM1081 1631h1v14h-1zM1080 1607h3v24h-3zM1085 1607h1v26h-1zM1085 1685h1v18h-1zM1084 1633h3v52h-3zM1089 1629h1v19h-1zM1089 1685h1v8h-1zM1088 1648h3v1h-3zM1088 1684h3v1h-3zM1088 1649h1v35h-1zM1090 1649h1v35h-1zM1093 1633h1v13h-1zM1093 1665h1v40h-1zM1092 1646h3v19h-3zM1097 1570h1v61h-1zM1096 1631h3v1h-3zM1096 1663h3v1h-3zM1096 1632h1v31h-1zM1098 1632h1v31h-1zM1101 1586h1v26h-1zM1101 1628h1v11h-1zM1100 1612h3v1h-3zM1100 1627h3v1h-3zM1100 1613h1v14h-1zM1102 1613h1v14h-1zM1105 1472h1v68h-1zM1104 1540h3v1h-3zM1104 1611h3v1h-3zM1104 1541h1v70h-1zM1106 1541h1v70h-1zM1109 1477h1v46h-1zM1109 1543h1v5h-1zM1108 1523h3v1h-3zM1108 1542h3v1h-3zM1108 1524h1v18h-1zM1110 1524h1v18h-1zM1113 1632h1v142h-1zM1112 1524h3v108h-3zM1117 1396h1v113h-1zM1117 1631h1v94h-1zM1116 1509h3v1h-3zM1116 1630h3v1h-3zM1116 1510h1v120h-1zM1118 1510h1v120h-1zM1121 1359h1v147h-1zM1121 1537h1v15h-1zM1120 1506h3v31h-3zM1125 1507h1v30h-1zM1125 1558h1v43h-1zM1124 1537h3v21h-3zM1129 1449h1v51h-1zM1129 1557h1v25h-1zM1128 1500h3v1h-3zM1128 1556h3v1h-3zM1128 1501h1v55h-1zM1130 1501h1v55h-1zM1133 1416h1v86h-1zM1133 1515h1v4h-1zM1132 1502h3v13h-3zM1137 1576h1v11h-1zM1136 1513h3v63h-3zM1141 1515h1v59h-1zM1141 1602h1v20h-1zM1140 1574h3v28h-3zM1145 1574h1v28h-1zM1145 1627h1v27h-1zM1144 1602h3v25h-3zM1149 1582h1v37h-1zM1149 1630h1v15h-1zM1148 1619h3v1h-3zM1148 1629h3v1h-3zM1148 1620h1v9h-1zM1150 1620h1v9h-1zM1153 1562h1v14h-1zM1153 1620h1v35h-1zM1152 1576h3v1h-3zM1152 1619h3v1h-3zM1152 1577h1v42h-1zM1154 1577h1v42h-1zM1157 1565h1v13h-1zM1157 1627h1v21h-1zM1156 1578h3v49h-3zM1161 1581h1v41h-1zM1161 1629h1v48h-1zM1160 1622h3v1h-3zM1160 1628h3v1h-3zM1160 1623h1v5h-1zM1162 1623h1v5h-1zM1165 1600h1v26h-1zM1165 1647h1v20h-1zM1164 1626h3v21h-3zM1169 1624h1v17h-1zM1169 1649h1v20h-1zM1168 1641h3v1h-3zM1168 1648h3v1h-3zM1168 1642h1v6h-1zM1170 1642h1v6h-1zM1173 1630h1v15h-1zM1173 1650h1v30h-1zM1172 1645h3v5h-3zM1177 1602h1v25h-1zM1177 1648h1v14h-1zM1176 1627h3v1h-3zM1176 1647h3v1h-3zM1176 1628h1v19h-1zM1178 1628h1v19h-1zM1181 1584h1v1h-1zM1181 1629h1v14h-1zM1180 1585h3v1h-3zM1180 1628h3v1h-3zM1180 1586h1v42h-1zM1182 1586h1v42h-1zM1185 1580h1v6h-1zM1185 1606h1v5h-1zM1184 1586h3v20h-3zM1189 1575h1v30h-1zM1189 1621h1v18h-1zM1188 1605h3v16h-3zM1193 1600h1v18h-1zM1193 1636h1v15h-1zM1192 1618h3v18h-3zM1197 1634h1v2h-1zM1197 1648h1v15h-1zM1196 1636h3v12h-3zM1201 1591h1v2h-1zM1201 1646h1v6h-1zM1200 1593h3v1h-3zM1200 1645h3v1h-3zM1200 1594h1v51h-1zM1202 1594h1v51h-1zM1205 1580h1v15h-1zM1205 1605h1v12h-1zM1204 1595h3v10h-3zM1209 1602h1v2h-1zM1209 1625h1v20h-1zM1208 1604h3v21h-3zM1213 1612h1v10h-1zM1213 1630h1v19h-1zM1212 1622h3v8h-3zM1217 1626h1v1h-1zM1217 1644h1v7h-1zM1216 1627h3v17h-3zM1221 1626h1v8h-1zM1221 1646h1v8h-1zM1220 1634h3v1h-3zM1220 1645h3v1h-3zM1220 1635h1v10h-1zM1222 1635h1v10h-1zM1225 1623h1v9h-1zM1224 1632h3v1h-3zM1224 1634h3v1h-3zM1224 1633h1v1h-1zM1226 1633h1v1h-1zM1229 1669h1v34h-1zM1228 1620h3v49h-3zM1233 1646h1v2h-1zM1233 1666h1v7h-1zM1232 1648h3v1h-3zM1232 1665h3v1h-3zM1232 1649h1v16h-1zM1234 1649h1v16h-1zM1237 1597h1v5h-1zM1237 1646h1v17h-1zM1236 1602h3v1h-3zM1236 1645h3v1h-3zM1236 1603h1v42h-1zM1238 1603h1v42h-1zM1241 1596h1v6h-1zM1241 1609h1v10h-1zM1240 1602h3v7h-3zM1245 1592h1v6h-1zM1245 1609h1v14h-1zM1244 1598h3v1h-3zM1244 1608h3v1h-3zM1244 1599h1v9h-1zM1246 1599h1v9h-1zM1249 1584h1v10h-1zM1249 1599h1v4h-1zM1248 1594h3v1h-3zM1248 1598h3v1h-3zM1248 1595h1v3h-1zM1250 1595h1v3h-1zM1253 1568h1v4h-1zM1253 1592h1v7h-1zM1252 1572h3v1h-3zM1252 1591h3v1h-3zM1252 1573h1v18h-1zM1254 1573h1v18h-1zM1257 1549h1v22h-1zM1257 1573h1v6h-1zM1256 1571h3v2h-3zM1261 1572h1v1h-1zM1261 1607h1v14h-1zM1260 1573h3v34h-3zM1265 1599h1v4h-1zM1265 1611h1v23h-1zM1264 1603h3v8h-3zM1269 1593h1v16h-1zM1269 1631h1v14h-1zM1268 1609h3v22h-3zM1273 1617h1v1h-1zM1273 1631h1v16h-1zM1272 1618h3v1h-3zM1272 1630h3v1h-3zM1272 1619h1v11h-1zM1274 1619h1v11h-1zM1277 1616h1v1h-1zM1277 1653h1v15h-1zM1276 1617h3v36h-3zM1281 1671h1v23h-1zM1280 1651h3v20h-3zM1285 1641h1v13h-1zM1285 1670h1v11h-1zM1284 1654h3v1h-3zM1284 1669h3v1h-3zM1284 1655h1v14h-1zM1286 1655h1v14h-1zM1289 1641h1v1h-1zM1289 1656h1v13h-1zM1288 1642h3v1h-3zM1288 1655h3v1h-3zM1288 1643h1v12h-1zM1290 1643h1v12h-1zM1293 1629h1v14h-1zM1293 1648h1v1h-1zM1292 1643h3v5h-3zM1297 1595h1v28h-1zM1296 1623h3v1h-3zM1296 1648h3v1h-3zM1296 1624h1v24h-1zM1298 1624h1v24h-1zM1301 1618h1v3h-1zM1301 1639h1v4h-1zM1300 1621h3v18h-3zM1305 1600h1v6h-1zM1304 1606h3v1h-3zM1304 1638h3v1h-3zM1304 1607h1v31h-1zM1306 1607h1v31h-1zM1309 1572h1v6h-1zM1308 1578h3v1h-3zM1308 1605h3v1h-3zM1308 1579h1v26h-1zM1310 1579h1v26h-1zM1313 1572h1v7h-1zM1313 1589h1v5h-1zM1312 1579h3v10h-3zM1317 1586h1v1h-1zM1317 1607h1v14h-1zM1316 1587h3v20h-3zM1321 1577h1v9h-1zM1321 1607h1v6h-1zM1320 1586h3v1h-3zM1320 1606h3v1h-3zM1320 1587h1v19h-1zM1322 1587h1v19h-1zM1325 1582h1v5h-1zM1325 1599h1v4h-1zM1324 1587h3v12h-3zM1329 1549h1v14h-1zM1328 1563h3v1h-3zM1328 1600h3v1h-3zM1328 1564h1v36h-1zM1330 1564h1v36h-1zM1333 1532h1v3h-1zM1333 1566h1v17h-1zM1332 1535h3v1h-3zM1332 1565h3v1h-3zM1332 1536h1v29h-1zM1334 1536h1v29h-1zM1337 1532h1v1h-1zM1337 1553h1v7h-1zM1336 1533h3v20h-3zM1341 1532h1v20h-1zM1341 1559h1v3h-1zM1340 1552h3v7h-3zM1345 1544h1v14h-1zM1345 1560h1v15h-1zM1344 1558h3v2h-3zM1349 1543h1v15h-1zM1349 1562h1v11h-1zM1348 1558h3v1h-3zM1348 1561h3v1h-3zM1348 1559h1v2h-1zM1350 1559h1v2h-1zM1353 1551h1v3h-1zM1353 1587h1v10h-1zM1352 1554h3v33h-3zM1357 1568h1v16h-1zM1357 1586h1v12h-1zM1356 1584h3v2h-3zM1361 1536h1v33h-1zM1360 1569h3v1h-3zM1360 1583h3v1h-3zM1360 1570h1v13h-1zM1362 1570h1v13h-1zM1365 1529h1v17h-1zM1365 1570h1v17h-1zM1364 1546h3v1h-3zM1364 1569h3v1h-3zM1364 1547h1v22h-1zM1366 1547h1v22h-1zM1369 1493h1v29h-1zM1369 1545h1v22h-1zM1368 1522h3v1h-3zM1368 1544h3v1h-3zM1368 1523h1v21h-1zM1370 1523h1v21h-1zM1373 1498h1v24h-1zM1373 1531h1v2h-1zM1372 1522h3v9h-3zM1377 1516h1v7h-1zM1377 1534h1v26h-1zM1376 1523h3v1h-3zM1376 1533h3v1h-3zM1376 1524h1v9h-1zM1378 1524h1v9h-1zM1381 1514h1v8h-1zM1380 1522h3v56h-3zM1385 1534h1v39h-1zM1385 1576h1v11h-1zM1384 1573h3v1h-3zM1384 1575h3v1h-3zM1384 1574h1v1h-1zM1386 1574h1v1h-1zM1389 1458h1v22h-1zM1389 1573h1v27h-1zM1388 1480h3v1h-3zM1388 1572h3v1h-3zM1388 1481h1v91h-1zM1390 1481h1v91h-1zM1393 1514h1v27h-1zM1392 1484h3v30h-3zM1397 1533h1v45h-1zM1396 1511h3v22h-3zM1401 1425h1v1h-1zM1401 1531h1v1h-1zM1400 1426h3v1h-3zM1400 1530h3v1h-3zM1400 1427h1v103h-1zM1402 1427h1v103h-1zM1405 1398h1v29h-1zM1404 1427h3v25h-3zM1409 1505h1v13h-1zM1408 1452h3v53h-3zM1413 1488h1v2h-1zM1413 1504h1v48h-1zM1412 1490h3v1h-3zM1412 1503h3v1h-3zM1412 1491h1v12h-1zM1414 1491h1v12h-1zM1417 1485h1v6h-1zM1417 1502h1v15h-1zM1416 1491h3v11h-3zM1421 1437h1v21h-1zM1421 1502h1v11h-1zM1420 1458h3v1h-3zM1420 1501h3v1h-3zM1420 1459h1v42h-1zM1422 1459h1v42h-1zM1425 1408h1v22h-1zM1425 1457h1v10h-1zM1424 1430h3v1h-3zM1424 1456h3v1h-3zM1424 1431h1v25h-1zM1426 1431h1v25h-1zM1429 1330h1v4h-1zM1428 1334h3v1h-3zM1428 1432h3v1h-3zM1428 1335h1v97h-1zM1430 1335h1v97h-1zM1433 1292h1v10h-1zM1433 1334h1v19h-1zM1432 1302h3v1h-3zM1432 1333h3v1h-3zM1432 1303h1v30h-1zM1434 1303h1v30h-1zM1437 1301h1v2h-1zM1437 1333h1v14h-1zM1436 1303h3v30h-3zM1441 1330h1v2h-1zM1441 1388h1v4h-1zM1440 1332h3v56h-3zM1445 1379h1v6h-1zM1445 1432h1v6h-1zM1444 1385h3v47h-3zM1449 1400h1v30h-1zM1449 1443h1v1h-1zM1448 1430h3v13h-3zM1453 1435h1v7h-1zM1453 1521h1v10h-1zM1452 1442h3v79h-3zM1457 1458h1v36h-1zM1457 1520h1v28h-1zM1456 1494h3v1h-3zM1456 1519h3v1h-3zM1456 1495h1v24h-1zM1458 1495h1v24h-1zM1461 1481h1v13h-1zM1461 1549h1v1h-1zM1460 1494h3v55h-3zM1465 1480h1v23h-1zM1465 1550h1v8h-1zM1464 1503h3v1h-3zM1464 1549h3v1h-3zM1464 1504h1v45h-1zM1466 1504h1v45h-1zM1469 1325h1v177h-1zM1469 1504h1v8h-1zM1468 1502h3v2h-3zM1473 1352h1v4h-1zM1472 1356h3v1h-3zM1472 1501h3v1h-3zM1472 1357h1v144h-1zM1474 1357h1v144h-1zM1477 1304h1v53h-1zM1477 1407h1v21h-1zM1476 1357h3v50h-3zM1481 1355h1v30h-1zM1481 1407h1v8h-1zM1480 1385h3v1h-3zM1480 1406h3v1h-3zM1480 1386h1v20h-1zM1482 1386h1v20h-1zM1485 1314h1v20h-1zM1485 1386h1v44h-1zM1484 1334h3v1h-3zM1484 1385h3v1h-3zM1484 1335h1v50h-1zM1486 1335h1v50h-1zM1489 1244h1v91h-1zM1489 1348h1v17h-1zM1488 1335h3v13h-3zM1493 1251h1v45h-1zM1493 1349h1v19h-1zM1492 1296h3v1h-3zM1492 1348h3v1h-3zM1492 1297h1v51h-1zM1494 1297h1v51h-1zM1497 1286h1v9h-1zM1497 1346h1v31h-1zM1496 1295h3v51h-3zM1501 1267h1v46h-1zM1500 1313h3v1h-3zM1500 1343h3v1h-3zM1500 1314h1v29h-1zM1502 1314h1v29h-1zM1505 1283h1v29h-1zM1505 1410h1v17h-1zM1504 1312h3v98h-3zM1509 1389h1v3h-1zM1509 1409h1v48h-1zM1508 1392h3v1h-3zM1508 1408h3v1h-3zM1508 1393h1v15h-1zM1510 1393h1v15h-1zM1513 1319h1v29h-1zM1512 1348h3v1h-3zM1512 1391h3v1h-3zM1512 1349h1v42h-1zM1514 1349h1v42h-1zM1517 1352h1v1h-1zM1516 1297h3v1h-3zM1516 1351h3v1h-3zM1516 1298h1v53h-1zM1518 1298h1v53h-1zM1521 1267h1v28h-1zM1521 1344h1v1h-1zM1520 1295h3v49h-3zM1525 1327h1v17h-1zM1525 1371h1v30h-1zM1524 1344h3v27h-3zM1529 1330h1v8h-1zM1529 1372h1v20h-1zM1528 1338h3v1h-3zM1528 1371h3v1h-3zM1528 1339h1v32h-1zM1530 1339h1v32h-1zM1533 1308h1v24h-1zM1533 1336h1v10h-1zM1532 1332h3v1h-3zM1532 1335h3v1h-3zM1532 1333h1v2h-1zM1534 1333h1v2h-1zM1537 1318h1v9h-1zM1537 1331h1v21h-1zM1536 1327h3v4h-3zM1541 1253h1v47h-1zM1541 1334h1v35h-1zM1540 1300h3v1h-3zM1540 1333h3v1h-3zM1540 1301h1v32h-1zM1542 1301h1v32h-1zM1545 1265h1v33h-1zM1545 1313h1v4h-1zM1544 1298h3v15h-3zM1549 1263h1v13h-1zM1549 1318h1v8h-1zM1548 1276h3v1h-3zM1548 1317h3v1h-3zM1548 1277h1v40h-1zM1550 1277h1v40h-1zM1553 1208h1v6h-1zM1553 1277h1v30h-1zM1552 1214h3v1h-3zM1552 1276h3v1h-3zM1552 1215h1v61h-1zM1554 1215h1v61h-1zM1557 1204h1v13h-1zM1557 1240h1v30h-1zM1556 1217h3v23h-3zM1561 1199h1v38h-1zM1560 1237h3v20h-3zM1565 1250h1v4h-1zM1564 1254h3v59h-3zM1569 1292h1v20h-1zM1569 1343h1v3h-1zM1568 1312h3v31h-3zM1572 1279h3v1h-3zM1572 1340h3v1h-3zM1572 1280h1v60h-1zM1574 1280h1v60h-1zM1577 1350h1v25h-1zM1576 1278h3v72h-3zM1581 1306h1v30h-1zM1581 1349h1v10h-1zM1580 1336h3v1h-3zM1580 1348h3v1h-3zM1580 1337h1v11h-1zM1582 1337h1v11h-1zM1585 1289h1v21h-1zM1585 1337h1v23h-1zM1584 1310h3v1h-3zM1584 1336h3v1h-3zM1584 1311h1v25h-1zM1586 1311h1v25h-1zM1589 1296h1v11h-1zM1589 1312h1v11h-1zM1588 1307h3v1h-3zM1588 1311h3v1h-3zM1588 1308h1v3h-1zM1590 1308h1v3h-1zM1593 1301h1v8h-1zM1593 1317h1v33h-1zM1592 1309h3v8h-3zM1597 1287h1v4h-1zM1597 1314h1v6h-1zM1596 1291h3v1h-3zM1596 1313h3v1h-3zM1596 1292h1v21h-1zM1598 1292h1v21h-1zM1601 1283h1v7h-1zM1601 1294h1v7h-1zM1600 1290h3v1h-3zM1600 1293h3v1h-3zM1600 1291h1v2h-1zM1602 1291h1v2h-1zM1605 1264h1v27h-1zM1605 1296h1v2h-1zM1604 1291h3v1h-3zM1604 1295h3v1h-3zM1604 1292h1v3h-1zM1606 1292h1v3h-1zM1609 1268h1v8h-1zM1609 1287h1v6h-1zM1608 1276h3v1h-3zM1608 1286h3v1h-3zM1608 1277h1v9h-1zM1610 1277h1v9h-1zM1613 1297h1v20h-1zM1612 1278h3v19h-3zM1617 1284h1v10h-1zM1617 1304h1v18h-1zM1616 1294h3v10h-3zM1621 1302h1v6h-1zM1620 1293h3v1h-3zM1620 1301h3v1h-3zM1620 1294h1v7h-1zM1622 1294h1v7h-1zM1625 1262h1v25h-1zM1625 1293h1v3h-1zM1624 1287h3v1h-3zM1624 1292h3v1h-3zM1624 1288h1v4h-1zM1626 1288h1v4h-1zM1628 1256h3v1h-3zM1628 1289h3v1h-3zM1628 1257h1v32h-1zM1630 1257h1v32h-1zM1633 1181h1v31h-1zM1632 1212h3v1h-3zM1632 1254h3v1h-3zM1632 1213h1v41h-1zM1634 1213h1v41h-1zM1637 1149h1v13h-1zM1637 1211h1v4h-1zM1636 1162h3v1h-3zM1636 1210h3v1h-3zM1636 1163h1v47h-1zM1638 1163h1v47h-1zM1641 1141h1v12h-1zM1641 1162h1v10h-1zM1640 1153h3v1h-3zM1640 1161h3v1h-3zM1640 1154h1v7h-1zM1642 1154h1v7h-1zM1645 1124h1v6h-1zM1645 1156h1v16h-1zM1644 1130h3v1h-3zM1644 1155h3v1h-3zM1644 1131h1v24h-1zM1646 1131h1v24h-1zM1649 1125h1v4h-1zM1649 1201h1v8h-1zM1648 1129h3v72h-3zM1653 1168h1v2h-1zM1653 1200h1v18h-1zM1652 1170h3v1h-3zM1652 1199h3v1h-3zM1652 1171h1v28h-1zM1654 1171h1v28h-1zM1657 1157h1v11h-1zM1657 1171h1v25h-1zM1656 1168h3v3h-3zM1661 1157h1v10h-1zM1661 1169h1v12h-1zM1660 1167h3v2h-3zM1665 1156h1v4h-1zM1665 1168h1v18h-1zM1664 1160h3v1h-3zM1664 1167h3v1h-3zM1664 1161h1v6h-1zM1666 1161h1v6h-1zM1668 1160h3v126h-3zM1673 1167h1v50h-1zM1673 1294h1v19h-1zM1672 1217h3v1h-3zM1672 1293h3v1h-3zM1672 1218h1v75h-1zM1674 1218h1v75h-1zM1677 1202h1v49h-1zM1681 1166h1v14h-1zM1681 1217h1v36h-1zM1680 1180h3v1h-3zM1680 1216h3v1h-3zM1680 1181h1v35h-1zM1682 1181h1v35h-1zM1685 1157h1v16h-1zM1685 1183h1v12h-1zM1684 1173h3v1h-3zM1684 1182h3v1h-3zM1684 1174h1v8h-1zM1686 1174h1v8h-1zM1689 1152h1v14h-1zM1689 1177h1v13h-1zM1688 1166h3v1h-3zM1688 1176h3v1h-3zM1688 1167h1v9h-1zM1690 1167h1v9h-1zM1693 1135h1v13h-1zM1693 1166h1v2h-1zM1692 1148h3v1h-3zM1692 1165h3v1h-3zM1692 1149h1v16h-1zM1694 1149h1v16h-1zM1697 1150h1v32h-1zM1696 1146h3v1h-3zM1696 1149h3v1h-3zM1696 1147h1v2h-1zM1698 1147h1v2h-1zM1701 1149h1v19h-1zM1700 1140h3v1h-3zM1700 1148h3v1h-3zM1700 1141h1v7h-1zM1702 1141h1v7h-1zM1705 1131h1v10h-1zM1705 1150h1v13h-1zM1704 1141h3v9h-3zM1709 1141h1v8h-1zM1709 1170h1v3h-1zM1708 1149h3v21h-3zM1713 1163h1v6h-1zM1713 1188h1v7h-1zM1712 1169h3v19h-3zM1717 1184h1v1h-1zM1717 1231h1v16h-1zM1716 1185h3v46h-3zM1721 1212h1v18h-1zM1721 1240h1v11h-1zM1720 1230h3v10h-3zM1725 1216h1v23h-1zM1725 1244h1v3h-1zM1724 1239h3v5h-3zM1729 1214h1v28h-1zM1729 1247h1v2h-1zM1728 1242h3v5h-3zM1733 1208h1v4h-1zM1733 1245h1v6h-1zM1732 1212h3v1h-3zM1732 1244h3v1h-3zM1732 1213h1v31h-1zM1734 1213h1v31h-1zM1737 1201h1v10h-1zM1737 1292h1v2h-1zM1736 1211h3v81h-3zM1741 1249h1v21h-1zM1741 1291h1v3h-1zM1740 1270h3v1h-3zM1740 1290h3v1h-3zM1740 1271h1v19h-1zM1742 1271h1v19h-1zM1745 1151h1v37h-1zM1744 1188h3v1h-3zM1744 1266h3v1h-3zM1744 1189h1v77h-1zM1746 1189h1v77h-1zM1749 1156h1v11h-1zM1749 1187h1v44h-1zM1748 1167h3v1h-3zM1748 1186h3v1h-3zM1748 1168h1v18h-1zM1750 1168h1v18h-1zM1753 1055h1v98h-1zM1753 1169h1v11h-1zM1752 1153h3v1h-3zM1752 1168h3v1h-3zM1752 1154h1v14h-1zM1754 1154h1v14h-1zM1757 1129h1v20h-1zM1757 1168h1v38h-1zM1756 1149h3v19h-3zM1761 1138h1v29h-1zM1761 1256h1v51h-1zM1760 1167h3v89h-3zM1765 1299h1v61h-1zM1764 1255h3v44h-3zM1769 1128h1v4h-1zM1769 1301h1v21h-1zM1768 1132h3v1h-3zM1768 1300h3v1h-3zM1768 1133h1v167h-1zM1770 1133h1v167h-1zM1773 1197h1v16h-1zM1772 1131h3v66h-3zM1777 1129h1v10h-1zM1777 1197h1v15h-1zM1776 1139h3v1h-3zM1776 1196h3v1h-3zM1776 1140h1v56h-1zM1778 1140h1v56h-1zM1781 1139h1v1h-1zM1781 1225h1v38h-1zM1780 1140h3v85h-3zM1785 1138h1v57h-1zM1784 1195h3v1h-3zM1784 1219h3v1h-3zM1784 1196h1v23h-1zM1786 1196h1v23h-1zM1789 1132h1v64h-1zM1789 1294h1v13h-1zM1788 1196h3v98h-3zM1793 1174h1v34h-1zM1793 1292h1v32h-1zM1792 1208h3v1h-3zM1792 1291h3v1h-3zM1792 1209h1v82h-1zM1794 1209h1v82h-1zM1797 1208h1v5h-1zM1796 1125h3v1h-3zM1796 1207h3v1h-3zM1796 1126h1v81h-1zM1798 1126h1v81h-1zM1801 1085h1v41h-1zM1800 1126h3v37h-3zM1805 1232h1v19h-1zM1804 1161h3v71h-3zM1809 1143h1v20h-1zM1809 1237h1v6h-1zM1808 1163h3v1h-3zM1808 1236h3v1h-3zM1808 1164h1v72h-1zM1810 1164h1v72h-1zM1813 1148h1v1h-1zM1813 1162h1v50h-1zM1812 1149h3v1h-3zM1812 1161h3v1h-3zM1812 1150h1v11h-1zM1814 1150h1v11h-1zM1817 1098h1v48h-1zM1816 1146h3v15h-3zM1821 1154h1v5h-1zM1821 1216h1v26h-1zM1820 1159h3v57h-3zM1825 1256h1v43h-1zM1824 1214h3v42h-3zM1829 1255h1v38h-1zM1828 1231h3v1h-3zM1828 1254h3v1h-3zM1828 1232h1v22h-1zM1830 1232h1v22h-1zM1833 1158h1v43h-1zM1833 1235h1v8h-1zM1832 1201h3v1h-3zM1832 1234h3v1h-3zM1832 1202h1v32h-1zM1834 1202h1v32h-1zM1837 1131h1v39h-1zM1837 1197h1v9h-1zM1836 1170h3v1h-3zM1836 1196h3v1h-3zM1836 1171h1v25h-1zM1838 1171h1v25h-1zM1841 1156h1v16h-1zM1841 1249h1v29h-1zM1840 1172h3v77h-3zM1845 1183h1v10h-1zM1845 1250h1v38h-1zM1844 1193h3v1h-3zM1844 1249h3v1h-3zM1844 1194h1v55h-1zM1846 1194h1v55h-1zM1849 709h1v81h-1zM1849 1197h1v6h-1zM1848 790h3v1h-3zM1848 1196h3v1h-3zM1848 791h1v405h-1zM1850 791h1v405h-1zM1853 746h1v47h-1zM1853 919h1v46h-1zM1852 793h3v126h-3zM1857 747h1v100h-1zM1857 917h1v90h-1zM1856 847h3v1h-3zM1856 916h3v1h-3zM1856 848h1v68h-1zM1858 848h1v68h-1zM1861 661h1v5h-1zM1861 849h1v43h-1zM1860 666h3v1h-3zM1860 848h3v1h-3zM1860 667h1v181h-1zM1862 667h1v181h-1zM1865 429h1v24h-1zM1865 669h1v45h-1zM1864 453h3v1h-3zM1864 668h3v1h-3zM1864 454h1v214h-1zM1866 454h1v214h-1zM1869 504h1v139h-1zM1868 446h3v58h-3zM1873 313h1v75h-1zM1872 388h3v1h-3zM1872 499h3v1h-3zM1872 389h1v110h-1zM1874 389h1v110h-1zM1877 308h1v1h-1zM1877 391h1v94h-1zM1876 309h3v1h-3zM1876 390h3v1h-3zM1876 310h1v80h-1zM1878 310h1v80h-1zM1881 195h1v23h-1zM1881 309h1v10h-1zM1880 218h3v1h-3zM1880 308h3v1h-3zM1880 219h1v89h-1zM1882 219h1v89h-1zM1885 184h1v35h-1zM1885 310h1v52h-1zM1884 219h3v91h-3zM1889 469h1v3h-1zM1888 308h3v161h-3zM1893 435h1v33h-1zM1893 511h1v26h-1zM1892 468h3v43h-3zM1897 458h1v37h-1zM1897 511h1v67h-1zM1896 495h3v1h-3zM1896 510h3v1h-3zM1896 496h1v14h-1zM1898 496h1v14h-1zM1901 472h1v22h-1zM1901 575h1v32h-1zM1900 494h3v81h-3zM1905 527h1v15h-1zM1905 575h1v29h-1zM1904 542h3v1h-3zM1904 574h3v1h-3zM1904 543h1v31h-1zM1906 543h1v31h-1zM1909 526h1v10h-1zM1909 547h1v32h-1zM1908 536h3v1h-3zM1908 546h3v1h-3zM1908 537h1v9h-1zM1910 537h1v9h-1zM1913 492h1v8h-1zM1913 533h1v71h-1zM1912 500h3v1h-3zM1912 532h3v1h-3zM1912 501h1v31h-1zM1914 501h1v31h-1zM1917 434h1v50h-1zM1917 500h1v12h-1zM1916 484h3v1h-3zM1916 499h3v1h-3zM1916 485h1v14h-1zM1918 485h1v14h-1zM1921 444h1v44h-1zM1920 488h3v89h-3zM1925 623h1v32h-1zM1924 576h3v47h-3zM1929 611h1v11h-1zM1929 681h1v7h-1zM1928 622h3v59h-3zM1933 666h1v13h-1zM1933 719h1v33h-1zM1932 679h3v40h-3zM1937 639h1v53h-1zM1937 717h1v6h-1zM1936 692h3v1h-3zM1936 716h3v1h-3zM1936 693h1v23h-1zM1938 693h1v23h-1zM1941 683h1v9h-1zM1941 746h1v27h-1zM1940 692h3v54h-3zM1945 703h1v44h-1zM1945 763h1v23h-1zM1944 747h3v16h-3zM1949 698h1v16h-1zM1949 763h1v1h-1zM1948 714h3v1h-3zM1948 762h3v1h-3zM1948 715h1v47h-1zM1950 715h1v47h-1zM1953 672h1v44h-1zM1953 718h1v25h-1zM1952 716h3v2h-3zM1957 700h1v19h-1zM1957 740h1v19h-1zM1956 719h3v21h-3zM1961 705h1v27h-1zM1961 739h1v13h-1zM1960 732h3v1h-3zM1960 738h3v1h-3zM1960 733h1v5h-1zM1962 733h1v5h-1zM1965 727h1v8h-1zM1965 776h1v2h-1zM1964 735h3v41h-3zM1969 742h1v18h-1zM1968 760h3v1h-3zM1968 775h3v1h-3zM1968 761h1v14h-1zM1970 761h1v14h-1zM1973 732h1v26h-1zM1973 766h1v3h-1zM1972 758h3v8h-3zM1977 743h1v23h-1zM1977 768h1v13h-1zM1976 766h3v2h-3zM1981 742h1v22h-1zM1981 770h1v3h-1zM1980 764h3v1h-3zM1980 769h3v1h-3zM1980 765h1v4h-1zM1982 765h1v4h-1z" fill="#000"/>
<path d="M5 958h1v13h-1zM9 938h1v18h-1zM13 920h1v16h-1zM17 889h1v29h-1zM21 884h1v3h-1zM33 890h1v20h-1zM37 833h1v59h-1zM45 855h1v16h-1zM49 797h1v58h-1zM53 771h1v26h-1zM65 792h1v18h-1zM81 815h1v11h-1zM89 889h1v10h-1zM93 885h1v4h-1zM105 870h1v29h-1zM113 812h1v66h-1zM117 779h1v31h-1zM133 862h1v6h-1zM137 803h1v55h-1zM141 781h1v23h-1zM149 808h1v31h-1zM153 708h1v101h-1zM157 700h1v6h-1zM165 698h1v13h-1zM169 694h1v3h-1zM177 694h1v2h-1zM193 712h1v9h-1zM197 694h1v15h-1zM205 670h1v43h-1zM217 738h1v24h-1zM221 716h1v21h-1zM225 666h1v47h-1zM233 635h1v30h-1zM241 646h1v28h-1zM257 719h1v14h-1zM273 840h1v8h-1zM277 779h1v60h-1zM289 838h1v17h-1zM297 814h1v78h-1zM301 755h1v54h-1zM309 751h1v25h-1zM317 732h1v54h-1zM321 691h1v42h-1zM325 656h1v35h-1zM329 617h1v36h-1zM333 613h1v3h-1zM337 586h1v26h-1zM341 567h1v17h-1zM345 506h1v58h-1zM349 482h1v20h-1zM353 376h1v104h-1zM361 368h1v60h-1zM369 311h1v76h-1zM377 334h1v74h-1zM381 252h1v81h-1zM397 330h1v2h-1zM405 358h1v40h-1zM425 428h1v29h-1zM429 417h1v11h-1zM441 413h1v16h-1zM445 403h1v9h-1zM449 400h1v3h-1zM453 380h1v24h-1zM457 346h1v32h-1zM465 372h1v2h-1zM469 365h1v12h-1zM473 370h1v2h-1zM477 350h1v22h-1zM485 327h1v30h-1zM497 360h1v4h-1zM513 336h1v49h-1zM521 317h1v43h-1zM525 266h1v51h-1zM533 281h1v14h-1zM545 291h1v18h-1zM553 275h1v23h-1zM557 272h1v4h-1zM565 272h1v5h-1zM593 352h1v7h-1zM597 343h1v7h-1zM605 343h1v67h-1zM609 279h1v66h-1zM625 416h1v36h-1zM633 435h1v17h-1zM653 567h1v24h-1zM657 559h1v8h-1zM661 518h1v42h-1zM669 509h1v49h-1zM673 487h1v20h-1zM685 577h1v16h-1zM693 524h1v110h-1zM697 473h1v51h-1zM705 504h1v19h-1zM729 675h1v30h-1zM737 1099h1v73h-1zM757 1303h1v45h-1zM765 1339h1v33h-1zM769 1288h1v49h-1zM793 1528h1v8h-1zM809 1567h1v35h-1zM813 1549h1v13h-1zM821 1545h1v9h-1zM837 1599h1v6h-1zM841 1586h1v9h-1zM849 1603h1v6h-1zM853 1574h1v21h-1zM881 1619h1v23h-1zM885 1581h1v39h-1zM897 1593h1v21h-1zM921 1722h1v22h-1zM937 1745h1v26h-1zM945 1742h1v9h-1zM949 1721h1v21h-1zM957 1756h1v5h-1zM961 1727h1v27h-1zM969 1697h1v62h-1zM977 1707h1v39h-1zM981 1675h1v30h-1zM989 1684h1v20h-1zM993 1627h1v56h-1zM1005 1627h1v28h-1zM1017 1649h1v57h-1zM1025 1609h1v67h-1zM1033 1685h1v31h-1zM1037 1633h1v52h-1zM1057 1690h1v19h-1zM1065 1664h1v32h-1zM1073 1662h1v14h-1zM1077 1612h1v48h-1zM1089 1649h1v35h-1zM1097 1632h1v31h-1zM1101 1613h1v14h-1zM1105 1541h1v70h-1zM1109 1524h1v18h-1zM1117 1510h1v120h-1zM1129 1501h1v55h-1zM1149 1620h1v9h-1zM1153 1577h1v42h-1zM1161 1623h1v5h-1zM1169 1642h1v6h-1zM1177 1628h1v19h-1zM1181 1586h1v42h-1zM1201 1594h1v51h-1zM1221 1635h1v10h-1zM1225 1633h1v1h-1zM1233 1649h1v16h-1zM1237 1603h1v42h-1zM1245 1599h1v9h-1zM1249 1595h1v3h-1zM1253 1573h1v18h-1zM1273 1619h1v11h-1zM1285 1655h1v14h-1zM1289 1643h1v12h-1zM1297 1624h1v24h-1zM1305 1607h1v31h-1zM1309 1579h1v26h-1zM1321 1587h1v19h-1zM1329 1564h1v36h-1zM1333 1536h1v29h-1zM1349 1559h1v2h-1zM1361 1570h1v13h-1zM1365 1547h1v22h-1zM1369 1523h1v21h-1zM1377 1524h1v9h-1zM1385 1574h1v1h-1zM1389 1481h1v91h-1zM1401 1427h1v103h-1zM1413 1491h1v12h-1zM1421 1459h1v42h-1zM1425 1431h1v25h-1zM1429 1335h1v97h-1zM1433 1303h1v30h-1zM1457 1495h1v24h-1zM1465 1504h1v45h-1zM1473 1357h1v144h-1zM1481 1386h1v20h-1zM1485 1335h1v50h-1zM1493 1297h1v51h-1zM1501 1314h1v29h-1zM1509 1393h1v15h-1zM1513 1349h1v42h-1zM1517 1298h1v53h-1zM1529 1339h1v32h-1zM1533 1333h1v2h-1zM1541 1301h1v32h-1zM1549 1277h1v40h-1zM1553 1215h1v61h-1zM1573 1280h1v60h-1zM1581 1337h1v11h-1zM1585 1311h1v25h-1zM1589 1308h1v3h-1zM1597 1292h1v21h-1zM1601 1291h1v2h-1zM1605 1292h1v3h-1zM1609 1277h1v9h-1zM1621 1294h1v7h-1zM1625 1288h1v4h-1zM1629 1257h1v32h-1zM1633 1213h1v41h-1zM1637 1163h1v47h-1zM1641 1154h1v7h-1zM1645 1131h1v24h-1zM1653 1171h1v28h-1zM1665 1161h1v6h-1zM1673 1218h1v75h-1zM1681 1181h1v35h-1zM1685 1174h1v8h-1zM1689 1167h1v9h-1zM1693 1149h1v16h-1zM1697 1147h1v2h-1zM1701 1141h1v7h-1zM1733 1213h1v31h-1zM1741 1271h1v19h-1zM1745 1189h1v77h-1zM1749 1168h1v18h-1zM1753 1154h1v14h-1zM1769 1133h1v167h-1zM1777 1140h1v56h-1zM1785 1196h1v23h-1zM1793 1209h1v82h-1zM1797 1126h1v81h-1zM1809 1164h1v72h-1zM1813 1150h1v11h-1zM1829 1232h1v22h-1zM1833 1202h1v32h-1zM1837 1171h1v25h-1zM1845 1194h1v55h-1zM1849 791h1v405h-1zM1857 848h1v68h-1zM1861 667h1v181h-1zM1865 454h1v214h-1zM1873 389h1v110h-1zM1877 310h1v80h-1zM1881 219h1v89h-1zM1897 496h1v14h-1zM1905 543h1v31h-1zM1909 537h1v9h-1zM1913 501h1v31h-1zM1917 485h1v14h-1zM1937 693h1v23h-1zM1949 715h1v47h-1zM1961 733h1v5h-1zM1969 761h1v14h-1zM1981 765h1v4h-1z" fill="#fff"/>
<path d="M5 83.5H3746" stroke="#c71585" stroke-width="1" stroke-dasharray="18 6" fill="none"/>
<path d="M5 224.5H3746" stroke="#ff00ff" stroke-width="1" stroke-dasharray="9 6 3 6" fill="none"/>
<path d="M5 365.5H3746" stroke="#1e90ff" stroke-width="1" stroke-dasharray="18 6" fill="none"/>
<path d="M5 507.5H3746" stroke="#ff8c00" stroke-width="1" stroke-dasharray="9 6 3 6" fill="none"/>
<path d="M5 648.5H3746" stroke="#ff4500" stroke-width="1" stroke-dasharray="18 6" fill="none"/>
<path d="M5 790.5H3746" stroke="#556b2f" stroke-width="1" stroke-dasharray="9 6 3 6" fill="none"/>
<path d="M5 931.5H3746" stroke="#1e90ff" stroke-width="1" fill="none"/>
<path d="M5 1072.5H3746" stroke="#556b2f" stroke-width="1" stroke-dasharray="9 6 3 6" fill="none"/>
<path d="M5 1214.5H3746" stroke="#ff4500" stroke-width="1" stroke-dasharray="18 6" fill="none"/>
<path d="M5 1355.5H3746" stroke="#ff8c00" stroke-width="1" stroke-dasharray="9 6 3 6" fill="none"/>
<path d="M5 1496.5H3746" stroke="#1e90ff" stroke-width="1" stroke-dasharray="18 6" fill="none"/>
<path d="M5 1638.5H3746" stroke="#ff00ff" stroke-width="1" stroke-dasharray="9 6 3 6" fill="none"/>
<path d="M5 1779.5H3746" stroke="#c71585" stroke-width="1" stroke-dasharray="18 6" fill="none"/>
<text x="1877.6" y="102" font-size="20" fill="#c71585" text-anchor="middle" textLength="346.4" lengthAdjust="spacing">H4[7/8] H1[7/8] M30[+2/8] M15[+2/8]</text>
<text x="1877.6" y="243" font-size="20" fill="#ff00ff" text-anchor="middle" textLength="197.4" lengthAdjust="spacing">M30[+1/8] M15[+1/8]</text>
<text x="1878.0" y="384" font-size="20" fill="#1e90ff" text-anchor="middle" textLength="324.1" lengthAdjust="spacing">H4[6/8] H1[6/8] M30RES M15RES</text>
<text x="1877.7" y="526" font-size="20" fill="#ff8c00" text-anchor="middle" textLength="173.7" lengthAdjust="spacing">M30[7/8] M15[7/8]</text>
<text x="1877.5" y="667" font-size="20" fill="#ff4500" text-anchor="middle" textLength="322.3" lengthAdjust="spacing">H4[5/8] H1[5/8] M30[6/8] M15[6/8]</text>
<text x="1877.7" y="809" font-size="20" fill="#556b2f" text-anchor="middle" textLength="173.7" lengthAdjust="spacing">M30[5/8] M15[5/8]</text>
<text x="1878.8" y="950" font-size="20" fill="#1e90ff" text-anchor="middle" textLength="473.2" lengthAdjust="spacing">D1[3/8] H4PIVOT H1PIVOT M30PIVOT M15PIVOT</text>
<text x="1877.7" y="1091" font-size="20" fill="#556b2f" text-anchor="middle" textLength="173.7" lengthAdjust="spacing">M30[3/8] M15[3/8]</text>
<text x="1877.8" y="1233" font-size="20" fill="#ff4500" text-anchor="middle" textLength="321.7" lengthAdjust="spacing">H4[3/8] H1[3/8] M30[2/8] M15[2/8]</text>
<text x="1877.7" y="1374" font-size="20" fill="#ff8c00" text-anchor="middle" textLength="173.7" lengthAdjust="spacing">M30[1/8] M15[1/8]</text>
<text x="1878.0" y="1515" font-size="20" fill="#1e90ff" text-anchor="middle" textLength="322.1" lengthAdjust="spacing">H4[2/8] H1[2/8] M30SUP M15SUP</text>
<text x="1877.9" y="1657" font-size="20" fill="#ff00ff" text-anchor="middle" textLength="187.1" lengthAdjust="spacing">M30[-1/8] M15[-1/8]</text>
<text x="1877.7" y="1798" font-size="20" fill="#c71585" text-anchor="middle" textLength="336.0" lengthAdjust="spacing">H4[1/8] H1[1/8] M30[-2/8] M15[-2/8]</text>
<path d="M4.5 4.5H3746.5V1961.5H4.5Z" stroke="#000" stroke-width="1" fill="none"/>
<path d="M3747 10h2v1h-2zM3747 75h2v1h-2zM3747 145h2v1h-2zM3747 209h2v1h-2zM3747 274h2v1h-2zM3747 339h2v1h-2zM3747 404h2v1h-2zM3747 473h2v1h-2zM3747 538h2v1h-2zM3747 603h2v1h-2zM3747 668h2v1h-2zM3747 738h2v1h-2zM3747 802h2v1h-2zM3747 867h2v1h-2zM3747 932h2v1h-2zM3747 997h2v1h-2zM3747 1066h2v1h-2zM3747 1131h2v1h-2zM3747 1196h2v1h-2zM3747 1261h2v1h-2zM3747 1330h2v1h-2zM3747 1395h2v1h-2zM3747 1460h2v1h-2zM3747 1525h2v1h-2zM3747 1590h2v1h-2zM3747 1659h2v1h-2zM3747 1724h2v1h-2zM3747 1789h2v1h-2zM3747 1854h2v1h-2zM3747 1923h2v1h-2zM5 1962h1v3h-1zM133 1962h1v3h-1zM261 1962h1v3h-1zM389 1962h1v3h-1zM517 1962h1v3h-1zM645 1962h1v3h-1zM773 1962h1v3h-1zM901 1962h1v3h-1zM1029 1962h1v3h-1zM1157 1962h1v3h-1zM1285 1962h1v3h-1zM1413 1962h1v3h-1zM1541 1962h1v3h-1zM1669 1962h1v3h-1zM1797 1962h1v3h-1zM1925 1962h1v3h-1z" fill="#000"/>
<g transform="translate(3755.40 18) scale(0.900 1)"><text x="0" y="0" font-size="20" fill="#000" stroke="#000" stroke-width="0.4" textLength="72.22" lengthAdjust="spacing">1.07195</text></g>
<g transform="translate(3755.40 83) scale(0.900 1)"><text x="0" y="0" font-size="20" fill="#000" stroke="#000" stroke-width="0.4" textLength="72.22" lengthAdjust="spacing">1.07125</text></g>
<g transform="translate(3755.40 153) scale(0.900 1)"><text x="0" y="0" font-size="20" fill="#000" stroke="#000" stroke-width="0.4" textLength="72.22" lengthAdjust="spacing">1.07050</text></g>
<g transform="translate(3755.40 217) scale(0.900 1)"><text x="0" y="0" font-size="20" fill="#000" stroke="#000" stroke-width="0.4" textLength="72.22" lengthAdjust="spacing">1.06980</text></g>
<g transform="translate(3755.40 282) scale(0.900 1)"><text x="0" y="0" font-size="20" fill="#000" stroke="#000" stroke-width="0.4" textLength="72.22" lengthAdjust="spacing">1.06910</text></g>
<g transform="translate(3755.40 347) scale(0.900 1)"><text x="0" y="0" font-size="20" fill="#000" stroke="#000" stroke-width="0.4" textLength="72.22" lengthAdjust="spacing">1.06840</text></g>
<g transform="translate(3755.40 412) scale(0.900 1)"><text x="0" y="0" font-size="20" fill="#000" stroke="#000" stroke-width="0.4" textLength="72.22" lengthAdjust="spacing">1.06770</text></g>
<g transform="translate(3755.40 481) scale(0.900 1)"><text x="0" y="0" font-size="20" fill="#000" stroke="#000" stroke-width="0.4" textLength="72.22" lengthAdjust="spacing">1.06695</text></g>
<g transform="translate(3755.40 546) scale(0.900 1)"><text x="0" y="0" font-size="20" fill="#000" stroke="#000" stroke-width="0.4" textLength="72.22" lengthAdjust="spacing">1.06625</text></g>
<g transform="translate(3755.40 611) scale(0.900 1)"><text x="0" y="0" font-size="20" fill="#000" stroke="#000" stroke-width="0.4" textLength="72.22" lengthAdjust="spacing">1.06555</text></g>
<g transform="translate(3755.40 676) scale(0.900 1)"><text x="0" y="0" font-size="20" fill="#000" stroke="#000" stroke-width="0.4" textLength="72.22" lengthAdjust="spacing">1.06485</text></g>
<g transform="translate(3755.40 746) scale(0.900 1)"><text x="0" y="0" font-size="20" fill="#000" stroke="#000" stroke-width="0.4" textLength="72.22" lengthAdjust="spacing">1.06410</text></g>
<g transform="translate(3755.40 810) scale(0.900 1)"><text x="0" y="0" font-size="20" fill="#000" stroke="#000" stroke-width="0.4" textLength="72.22" lengthAdjust="spacing">1.06340</text></g>
<g transform="translate(3755.40 875) scale(0.900 1)"><text x="0" y="0" font-size="20" fill="#000" stroke="#000" stroke-width="0.4" textLength="72.22" lengthAdjust="spacing">1.06270</text></g>
<g transform="translate(3755.40 940) scale(0.900 1)"><text x="0" y="0" font-size="20" fill="#000" stroke="#000" stroke-width="0.4" textLength="72.22" lengthAdjust="spacing">1.06200</text></g>
<g transform="translate(3755.40 1005) scale(0.900 1)"><text x="0" y="0" font-size="20" fill="#000" stroke="#000" stroke-width="0.4" textLength="72.22" lengthAdjust="spacing">1.06130</text></g>
<g transform="translate(3755.40 1074) scale(0.900 1)"><text x="0" y="0" font-size="20" fill="#000" stroke="#000" stroke-width="0.4" textLength="72.22" lengthAdjust="spacing">1.06055</text></g>
<g transform="translate(3755.40 1139) scale(0.900 1)"><text x="0" y="0" font-size="20" fill="#000" stroke="#000" stroke-width="0.4" textLength="72.22" lengthAdjust="spacing">1.05985</text></g>
<g transform="translate(3755.40 1204) scale(0.900 1)"><text x="0" y="0" font-size="20" fill="#000" stroke="#000" stroke-width="0.4" textLength="72.22" lengthAdjust="spacing">1.05915</text></g>
<g transform="translate(3755.40 1269) scale(0.900 1)"><text x="0" y="0" font-size="20" fill="#000" stroke="#000" stroke-width="0.4" textLength="72.22" lengthAdjust="spacing">1.05845</text></g>
<g transform="translate(3755.40 1338) scale(0.900 1)"><text x="0" y="0" font-size="20" fill="#000" stroke="#000" stroke-width="0.4" textLength="72.22" lengthAdjust="spacing">1.05770</text></g>
<g transform="translate(3755.40 1403) scale(0.900 1)"><text x="0" y="0" font-size="20" fill="#000" stroke="#000" stroke-width="0.4" textLength="72.22" lengthAdjust="spacing">1.05700</text></g>
<g transform="translate(3755.40 1468) scale(0.900 1)"><text x="0" y="0" font-size="20" fill="#000" stroke="#000" stroke-width="0.4" textLength="72.22" lengthAdjust="spacing">1.05630</text></g>
<g transform="translate(3755.40 1533) scale(0.900 1)"><text x="0" y="0" font-size="20" fill="#000" stroke="#000" stroke-width="0.4" textLength="72.22" lengthAdjust="spacing">1.05560</text></g>
<g transform="translate(3755.40 1598) scale(0.900 1)"><text x="0" y="0" font-size="20" fill="#000" stroke="#000" stroke-width="0.4" textLength="72.22" lengthAdjust="spacing">1.05490</text></g>
<g transform="translate(3755.40 1667) scale(0.900 1)"><text x="0" y="0" font-size="20" fill="#000" stroke="#000" stroke-width="0.4" textLength="72.22" lengthAdjust="spacing">1.05415</text></g>
<g transform="translate(3755.40 1732) scale(0.900 1)"><text x="0" y="0" font-size="20" fill="#000" stroke="#000" stroke-width="0.4" textLength="72.22" lengthAdjust="spacing">1.05345</text></g>
<g transform="translate(3755.40 1797) scale(0.900 1)"><text x="0" y="0" font-size="20" fill="#000" stroke="#000" stroke-width="0.4" textLength="72.22" lengthAdjust="spacing">1.05275</text></g>
<g transform="translate(3755.40 1862) scale(0.900 1)"><text x="0" y="0" font-size="20" fill="#000" stroke="#000" stroke-width="0.4" textLength="72.22" lengthAdjust="spacing">1.05205</text></g>
<g transform="translate(3755.40 1931) scale(0.900 1)"><text x="0" y="0" font-size="20" fill="#000" stroke="#000" stroke-width="0.4" textLength="72.22" lengthAdjust="spacing">1.05130</text></g>
<g transform="translate(4.40 1984) scale(0.900 1)"><text x="0" y="0" font-size="20" fill="#000" stroke="#000" stroke-width="0.4" textLength="103.89" lengthAdjust="spacing">3 Mar 2023</text></g>
<g transform="translate(132.40 1984) scale(0.900 1)"><text x="0" y="0" font-size="20" fill="#000" stroke="#000" stroke-width="0.4" textLength="111.67" lengthAdjust="spacing">6 Mar 03:15</text></g>
<g transform="translate(260.40 1984) scale(0.900 1)"><text x="0" y="0" font-size="20" fill="#000" stroke="#000" stroke-width="0.4" textLength="111.67" lengthAdjust="spacing">6 Mar 11:15</text></g>
<g transform="translate(388.40 1984) scale(0.900 1)"><text x="0" y="0" font-size="20" fill="#000" stroke="#000" stroke-width="0.4" textLength="111.67" lengthAdjust="spacing">6 Mar 19:15</text></g>
<g transform="translate(516.40 1984) scale(0.900 1)"><text x="0" y="0" font-size="20" fill="#000" stroke="#000" stroke-width="0.4" textLength="111.67" lengthAdjust="spacing">7 Mar 03:30</text></g>
<g transform="translate(644.40 1984) scale(0.900 1)"><text x="0" y="0" font-size="20" fill="#000" stroke="#000" stroke-width="0.4" textLength="111.67" lengthAdjust="spacing">7 Mar 11:30</text></g>
<g transform="translate(772.40 1984) scale(0.900 1)"><text x="0" y="0" font-size="20" fill="#000" stroke="#000" stroke-width="0.4" textLength="111.67" lengthAdjust="spacing">7 Mar 19:30</text></g>
<g transform="translate(900.40 1984) scale(0.900 1)"><text x="0" y="0" font-size="20" fill="#000" stroke="#000" stroke-width="0.4" textLength="111.67" lengthAdjust="spacing">8 Mar 03:45</text></g>
<g transform="translate(1028.40 1984) scale(0.900 1)"><text x="0" y="0" font-size="20" fill="#000" stroke="#000" stroke-width="0.4" textLength="111.67" lengthAdjust="spacing">8 Mar 11:45</text></g>
<g transform="translate(1156.40 1984) scale(0.900 1)"><text x="0" y="0" font-size="20" fill="#000" stroke="#000" stroke-width="0.4" textLength="111.67" lengthAdjust="spacing">8 Mar 19:45</text></g>
<g transform="translate(1284.40 1984) scale(0.900 1)"><text x="0" y="0" font-size="20" fill="#000" stroke="#000" stroke-width="0.4" textLength="111.67" lengthAdjust="spacing">9 Mar 04:00</text></g>
<g transform="translate(1412.40 1984) scale(0.900 1)"><text x="0" y="0" font-size="20" fill="#000" stroke="#000" stroke-width="0.4" textLength="111.67" lengthAdjust="spacing">9 Mar 12:00</text></g>
<g transform="translate(1540.40 1984) scale(0.900 1)"><text x="0" y="0" font-size="20" fill="#000" stroke="#000" stroke-width="0.4" textLength="111.67" lengthAdjust="spacing">9 Mar 20:00</text></g>
<g transform="translate(1668.40 1984) scale(0.900 1)"><text x="0" y="0" font-size="20" fill="#000" stroke="#000" stroke-width="0.4" textLength="122.78" lengthAdjust="spacing">10 Mar 04:15</text></g>
<g transform="translate(1796.40 1984) scale(0.900 1)"><text x="0" y="0" font-size="20" fill="#000" stroke="#000" stroke-width="0.4" textLength="122.78" lengthAdjust="spacing">10 Mar 12:15</text></g>
<g transform="translate(1924.40 1984) scale(0.900 1)"><text x="0" y="0" font-size="20" fill="#000" stroke="#000" stroke-width="0.4" textLength="122.78" lengthAdjust="spacing">10 Mar 20:15</text></g>
<rect x="3748" y="77" width="80" height="23" fill="#c71585"/>
<g transform="translate(3755.40 96) scale(0.900 1)"><text x="0" y="0" font-size="20" fill="#fff" stroke="#fff" stroke-width="0.4" textLength="72.22" lengthAdjust="spacing">1.07117</text></g>
<rect x="3748" y="218" width="80" height="23" fill="#ff00ff"/>
<g transform="translate(3755.40 237) scale(0.900 1)"><text x="0" y="0" font-size="20" fill="#fff" stroke="#fff" stroke-width="0.4" textLength="72.22" lengthAdjust="spacing">1.06964</text></g>
<rect x="3748" y="359" width="80" height="23" fill="#1e90ff"/>
<g transform="translate(3755.40 378) scale(0.900 1)"><text x="0" y="0" font-size="20" fill="#fff" stroke="#fff" stroke-width="0.4" textLength="72.22" lengthAdjust="spacing">1.06812</text></g>
<rect x="3748" y="501" width="80" height="23" fill="#ff8c00"/>
<g transform="translate(3755.40 520) scale(0.900 1)"><text x="0" y="0" font-size="20" fill="#fff" stroke="#fff" stroke-width="0.4" textLength="72.22" lengthAdjust="spacing">1.06659</text></g>
<rect x="3748" y="642" width="80" height="23" fill="#ff4500"/>
<g transform="translate(3755.40 661) scale(0.900 1)"><text x="0" y="0" font-size="20" fill="#fff" stroke="#fff" stroke-width="0.4" textLength="72.22" lengthAdjust="spacing">1.06506</text></g>
<rect x="3748" y="784" width="80" height="23" fill="#556b2f"/>
<g transform="translate(3755.40 803) scale(0.900 1)"><text x="0" y="0" font-size="20" fill="#fff" stroke="#fff" stroke-width="0.4" textLength="72.22" lengthAdjust="spacing">1.06354</text></g>
<rect x="3748" y="925" width="80" height="23" fill="#1e90ff"/>
<g transform="translate(3755.40 944) scale(0.900 1)"><text x="0" y="0" font-size="20" fill="#fff" stroke="#fff" stroke-width="0.4" textLength="72.22" lengthAdjust="spacing">1.06201</text></g>
<rect x="3748" y="1066" width="80" height="23" fill="#556b2f"/>
<g transform="translate(3755.40 1085) scale(0.900 1)"><text x="0" y="0" font-size="20" fill="#fff" stroke="#fff" stroke-width="0.4" textLength="72.22" lengthAdjust="spacing">1.06049</text></g>
<rect x="3748" y="1208" width="80" height="23" fill="#ff4500"/>
<g transform="translate(3755.40 1227) scale(0.900 1)"><text x="0" y="0" font-size="20" fill="#fff" stroke="#fff" stroke-width="0.4" textLength="72.22" lengthAdjust="spacing">1.05896</text></g>
<rect x="3748" y="1349" width="80" height="23" fill="#ff8c00"/>
<g transform="translate(3755.40 1368) scale(0.900 1)"><text x="0" y="0" font-size="20" fill="#fff" stroke="#fff" stroke-width="0.4" textLength="72.22" lengthAdjust="spacing">1.05743</text></g>
<rect x="3748" y="1490" width="80" height="23" fill="#1e90ff"/>
<g transform="translate(3755.40 1509) scale(0.900 1)"><text x="0" y="0" font-size="20" fill="#fff" stroke="#fff" stroke-width="0.4" textLength="72.22" lengthAdjust="spacing">1.05591</text></g>
<rect x="3748" y="1632" width="80" height="23" fill="#ff00ff"/>
<g transform="translate(3755.40 1651) scale(0.900 1)"><text x="0" y="0" font-size="20" fill="#fff" stroke="#fff" stroke-width="0.4" textLength="72.22" lengthAdjust="spacing">1.05438</text></g>
<rect x="3748" y="1773" width="80" height="23" fill="#c71585"/>
<g transform="translate(3755.40 1792) scale(0.900 1)"><text x="0" y="0" font-size="20" fill="#fff" stroke="#fff" stroke-width="0.4" textLength="72.22" lengthAdjust="spacing">1.05286</text></g>
<rect x="3748" y="753" width="80" height="23" fill="#000"/>
<g transform="translate(3755.40 772) scale(0.900 1)"><text x="0" y="0" font-size="20" fill="#fff" stroke="#fff" stroke-width="0.4" textLength="72.22" lengthAdjust="spacing">1.06381</text></g>
<path d="M8 15h13v1h-13zM9 16h11v1h-11zM10 17h9v1h-9zM11 18h7v1h-7zM12 19h5v1h-5zM13 20h3v1h-3zM14 21h1v1h-1z" fill="#000"/>
<g transform="translate(32.40 27) scale(0.900 1)"><text x="0" y="0" font-size="20" fill="#000" stroke="#000" stroke-width="0.4" textLength="123.89" lengthAdjust="spacing">EURUSD,M15</text></g>
<g transform="translate(156.40 27) scale(0.900 1)"><text x="0" y="0" font-size="20" fill="#000" stroke="#000" stroke-width="0.4" textLength="72.22" lengthAdjust="spacing">1.06377</text></g>
<g transform="translate(228.40 27) scale(0.900 1)"><text x="0" y="0" font-size="20" fill="#000" stroke="#000" stroke-width="0.4" textLength="72.22" lengthAdjust="spacing">1.06405</text></g>
<g transform="translate(300.40 27) scale(0.900 1)"><text x="0" y="0" font-size="20" fill="#000" stroke="#000" stroke-width="0.4" textLength="72.22" lengthAdjust="spacing">1.06373</text></g>
<g transform="translate(372.40 27) scale(0.900 1)"><text x="0" y="0" font-size="20" fill="#000" stroke="#000" stroke-width="0.4" textLength="72.22" lengthAdjust="spacing">1.06381</text></g>
<path d="M1976 5H1995.5L1985.75 15Z" fill="#c0c0c0" shape-rendering="auto"/>
<path d="M176.5 893.5V926.5L184 919L189 930.5L193.5 928.5L189 917.5H200Z" fill="#fff" stroke="#000" stroke-width="1" stroke-linejoin="miter" shape-rendering="auto"/>
</svg></body></html>
